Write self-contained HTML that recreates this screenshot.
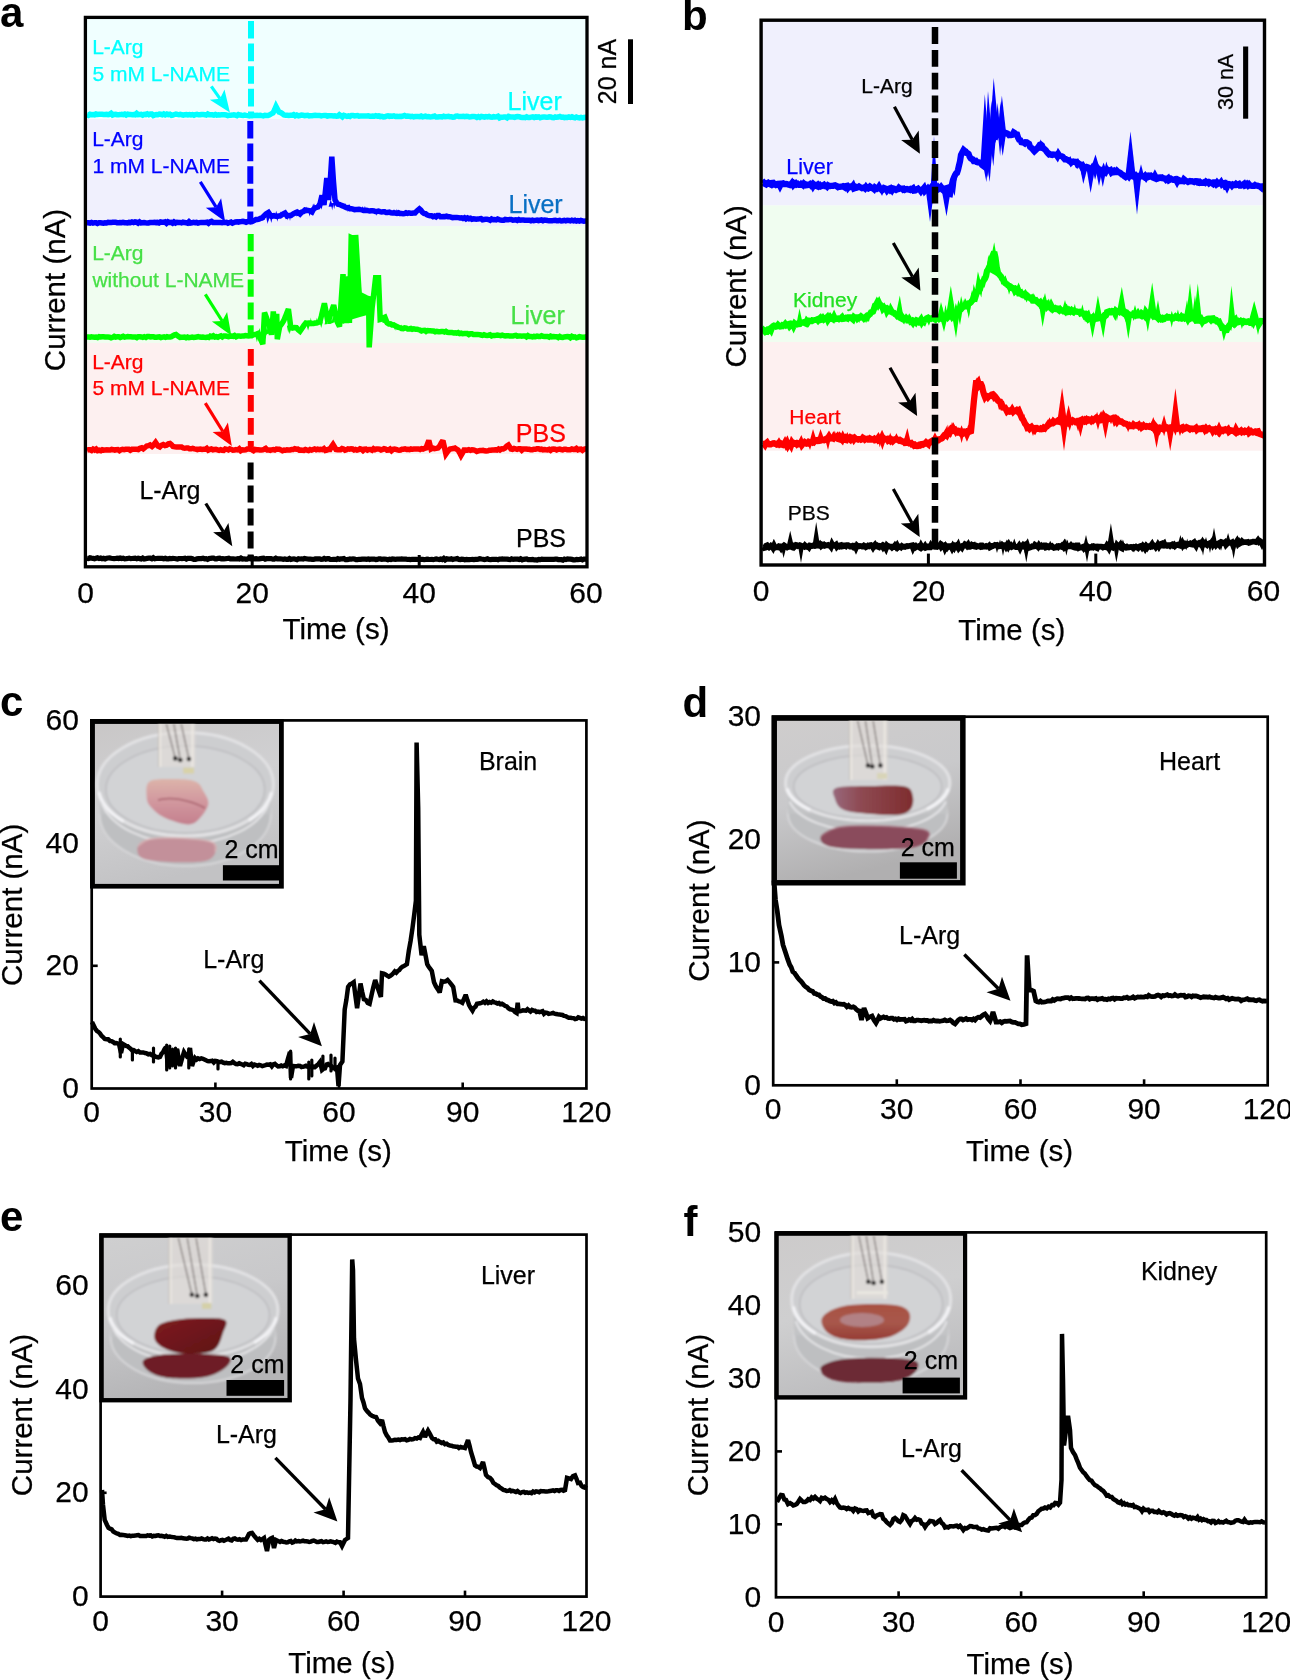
<!DOCTYPE html>
<html><head><meta charset="utf-8"><style>
html,body{margin:0;padding:0;background:#fff;}
svg{display:block;font-family:"Liberation Sans", sans-serif;will-change:transform;}
</style></head><body>
<svg width="1290" height="1680" viewBox="0 0 1290 1680">
<text x="0" y="26.8" font-size="42" fill="#000" text-anchor="start" font-weight="bold" >a</text>
<rect x="85.4" y="17.4" width="501.6" height="101.6" fill="#f0ffff"/>
<rect x="85.4" y="119" width="501.6" height="107" fill="#f0f0fd"/>
<rect x="85.4" y="226" width="501.6" height="117" fill="#f0fdf0"/>
<rect x="85.4" y="343" width="501.6" height="111" fill="#fdf0f0"/>
<line x1="251" y1="21" x2="251" y2="113" stroke="#00ffff" stroke-width="6" stroke-dasharray="17.6 5"/>
<line x1="250.3" y1="121" x2="250.3" y2="219" stroke="#0000ff" stroke-width="6" stroke-dasharray="17.6 5"/>
<line x1="250.7" y1="234" x2="250.7" y2="334" stroke="#00ff00" stroke-width="6" stroke-dasharray="17.2 5.6"/>
<line x1="250.8" y1="349" x2="250.8" y2="447" stroke="#ff0000" stroke-width="6" stroke-dasharray="16.8 6.2"/>
<line x1="250.6" y1="462.6" x2="250.6" y2="557" stroke="#000000" stroke-width="6" stroke-dasharray="17 6"/>
<text x="92.2" y="54.2" font-size="21" fill="#00ffff" text-anchor="start" font-weight="normal" stroke="#00ffff" stroke-width="0.25" >L-Arg</text>
<text x="92.4" y="81.1" font-size="21" fill="#00ffff" text-anchor="start" font-weight="normal" stroke="#00ffff" stroke-width="0.25" >5 mM L-NAME</text>
<text x="92.2" y="145.9" font-size="21" fill="#0000ff" text-anchor="start" font-weight="normal" stroke="#0000ff" stroke-width="0.25" >L-Arg</text>
<text x="92.4" y="172.7" font-size="21" fill="#0000ff" text-anchor="start" font-weight="normal" stroke="#0000ff" stroke-width="0.25" >1 mM L-NAME</text>
<text x="92.2" y="259.8" font-size="21" fill="#46e046" text-anchor="start" font-weight="normal" stroke="#46e046" stroke-width="0.25" >L-Arg</text>
<text x="92.4" y="286.5" font-size="21" fill="#46e046" text-anchor="start" font-weight="normal" stroke="#46e046" stroke-width="0.25" >without L-NAME</text>
<text x="92.2" y="368.5" font-size="21" fill="#ff0000" text-anchor="start" font-weight="normal" stroke="#ff0000" stroke-width="0.25" >L-Arg</text>
<text x="92.4" y="395" font-size="21" fill="#ff0000" text-anchor="start" font-weight="normal" stroke="#ff0000" stroke-width="0.25" >5 mM L-NAME</text>
<text x="507.6" y="109.9" font-size="25" fill="#00ffff" text-anchor="start" font-weight="normal" stroke="#00ffff" stroke-width="0.25" >Liver</text>
<text x="508.5" y="213.1" font-size="25" fill="#0a70c4" text-anchor="start" font-weight="normal" stroke="#0a70c4" stroke-width="0.25" >Liver</text>
<text x="510.6" y="323.8" font-size="25" fill="#46e046" text-anchor="start" font-weight="normal" stroke="#46e046" stroke-width="0.25" >Liver</text>
<text x="515.8" y="441.9" font-size="25" fill="#ff0000" text-anchor="start" font-weight="normal" stroke="#ff0000" stroke-width="0.25" >PBS</text>
<text x="516" y="547.2" font-size="25" fill="#000" text-anchor="start" font-weight="normal" stroke="#000" stroke-width="0.25" >PBS</text>
<text x="139.4" y="499" font-size="25" fill="#000" text-anchor="start" font-weight="normal" stroke="#000" stroke-width="0.25" >L-Arg</text>
<path d="M87 114.5 L88.5 115.3 L90 114.3 L91.5 114.7 L93 114.6 L94.5 114.8 L96 114 L97.5 114.4 L99.1 114.3 L100.6 114.2 L102.1 114.2 L103.6 114.4 L105.1 114.4 L106.6 114.2 L108.1 114.7 L109.6 114.4 L111.1 113.4 L112.6 115 L114.1 114.4 L115.6 114.3 L117.1 114.7 L118.6 114.7 L120.1 114.6 L121.7 114.3 L123.2 114.7 L124.7 114.1 L126.2 115.1 L127.7 114.2 L129.2 114.5 L130.7 114.6 L132.2 114.7 L133.7 114.5 L135.2 114.8 L136.7 113.4 L138.2 114.6 L139.7 114.5 L141.2 114.4 L142.7 115.1 L144.3 114.3 L145.8 114.6 L147.3 113.9 L148.8 114.7 L150.3 114.1 L151.8 114.1 L153.3 115.5 L154.8 114.9 L156.3 114.6 L157.8 114.7 L159.3 114.1 L160.8 114.3 L162.3 114.8 L163.8 113.9 L165.3 114.8 L166.9 114.1 L168.4 114.7 L169.9 114.3 L171.4 115.3 L172.9 115 L174.4 114.5 L175.9 114 L177.4 114.4 L178.9 114.7 L180.4 114.3 L181.9 114.8 L183.4 115.1 L184.9 114.7 L186.4 114.6 L187.9 115 L189.5 114.6 L191 115 L192.5 114.6 L194 115.3 L195.5 114.6 L197 114.4 L198.5 114.8 L200 114.8 L201.5 114.5 L203.1 114.4 L204.6 114.7 L206.2 115.1 L207.7 114 L209.2 114.8 L210.8 114.8 L212.3 114.8 L213.8 115.1 L215.4 114.4 L216.9 115.1 L218.5 114.8 L220 114.9 L221.5 114.8 L223.1 114.8 L224.6 114.7 L226.2 115 L227.7 115.6 L229.2 115.3 L230.8 115.2 L232.3 115.1 L233.8 114.8 L235.4 115.2 L236.9 115.7 L238.5 114.5 L240 115 L241.6 115.3 L243.1 115.4 L244.7 115.1 L246.2 115.4 L247.8 115.6 L249.3 115.9 L250.9 115.6 L252.4 115.8 L254 115.3 L255.6 115.5 L257.1 115.3 L258.7 115.4 L260.2 115.2 L261.8 115.6 L263.3 115.9 L264.9 115.4 L266.4 115.5 L268 115.5 L269.7 114.9 L271.3 113.8 L273 113 L274.5 110.1 L276 106.5 L277.5 109.3 L279 112 L280.7 112.6 L282.3 113.6 L284 115 L285.6 115.3 L287.2 115.3 L288.8 115.5 L290.4 115.3 L292 115.3 L293.6 114.7 L295.2 115.8 L296.8 115.1 L298.4 115.8 L300 115.5 L301.5 115.1 L303 115.3 L304.5 115.6 L306.1 115.4 L307.6 115.3 L309.1 115.9 L310.6 115.8 L312.1 115.7 L313.6 115.5 L315.2 115.3 L316.7 115.5 L318.2 115.5 L319.7 115.6 L321.2 115.9 L322.7 115.6 L324.2 115.4 L325.8 115.5 L327.3 116.2 L328.8 115.8 L330.3 115.8 L331.8 115.8 L333.3 116 L334.8 115.8 L336.4 116.2 L337.9 116.1 L339.4 114.8 L340.9 115.8 L342.4 116.9 L343.9 115.4 L345.5 115.9 L347 116.3 L348.5 115.9 L350 116.4 L351.5 115.5 L353 115.5 L354.5 115.9 L356.1 115.7 L357.6 115.6 L359.1 116.2 L360.6 116.1 L362.1 116 L363.6 115.9 L365.2 116.1 L366.7 116 L368.2 115.8 L369.7 116.2 L371.2 116.2 L372.7 116.1 L374.2 116.3 L375.8 115.7 L377.3 116.1 L378.8 115.9 L380.3 116.6 L381.8 116.3 L383.3 116.9 L384.8 116.7 L386.4 116.1 L387.9 115.8 L389.4 116.4 L390.9 116.1 L392.4 116.2 L393.9 115.9 L395.5 116.5 L397 116.3 L398.5 116.4 L400 116.3 L401.5 116.4 L403 116 L404.5 115.5 L406 116.2 L407.5 116.1 L409 116.2 L410.6 116.7 L412.1 116.3 L413.6 116.9 L415.1 116.5 L416.6 116.6 L418.1 116.6 L419.6 116.7 L421.1 116 L422.6 116.8 L424.1 116.5 L425.6 116.1 L427.1 116.7 L428.7 116.6 L430.2 116.9 L431.7 116.8 L433.2 116.6 L434.7 116 L436.2 117.1 L437.7 117.1 L439.2 116.8 L440.7 116.7 L442.2 117 L443.7 116.3 L445.2 116.8 L446.8 116.6 L448.3 116.3 L449.8 116.7 L451.3 116.8 L452.8 117.2 L454.3 117 L455.8 116.1 L457.3 116 L458.8 116.6 L460.3 116.6 L461.8 116.4 L463.3 116.2 L464.8 116.6 L466.4 116.3 L467.9 116.5 L469.4 117 L470.9 116.8 L472.4 116.5 L473.9 116.4 L475.4 116.7 L476.9 117.4 L478.4 116.6 L479.9 117.4 L481.4 116.5 L482.9 116.8 L484.5 117.1 L486 116.6 L487.5 116.9 L489 116.4 L490.5 117.1 L492 117.3 L493.5 116.7 L495 117 L496.5 116.8 L498 116.2 L499.5 117.9 L501 117.2 L502.5 117.2 L504.1 117.1 L505.6 117 L507.1 117.8 L508.6 116.4 L510.1 116.9 L511.6 116.9 L513.1 117 L514.6 117.3 L516.1 116.8 L517.6 116.6 L519.1 116.7 L520.6 117.2 L522.2 117.4 L523.7 117.4 L525.2 117.7 L526.7 116.9 L528.2 117.5 L529.7 117.4 L531.2 117.1 L532.7 116.9 L534.2 117.5 L535.7 116.9 L537.2 117.1 L538.7 116.8 L540.2 117.8 L541.8 117.2 L543.3 117 L544.8 117.1 L546.3 117.2 L547.8 117.3 L549.3 116.7 L550.8 116.9 L552.3 117.5 L553.8 117.7 L555.3 116.9 L556.8 117.3 L558.3 117.1 L559.9 116.5 L561.4 117.2 L562.9 117 L564.4 117.7 L565.9 117.3 L567.4 117.4 L568.9 116.9 L570.4 117.4 L571.9 116.7 L573.4 117.5 L574.9 117.9 L576.4 117 L578 117.7 L579.5 117.9 L581 117.4 L582.5 117.9 L584 117.5 L585.5 117.3 L587 117.5" fill="none" stroke="#00ffff" stroke-width="5.5" stroke-linejoin="miter" stroke-miterlimit="2.5" stroke-linecap="butt" />
<path d="M87 222.8 L88.5 222.8 L90 223.2 L91.5 222.5 L93 223.1 L94.5 222.7 L96 222.7 L97.5 223.4 L99 222.8 L100.5 222.8 L102 223 L103.5 223.2 L105 222.8 L106.5 223 L108 222.4 L109.5 222.6 L111 222.6 L112.5 222.3 L114 222.2 L115.5 222.2 L117 222.7 L118.5 222.7 L120 222.6 L121.5 222.7 L123 222.3 L124.5 222.7 L126 222.8 L127.5 223 L129 222.4 L130.5 222.6 L132 222 L133.5 222.5 L135 221.9 L136.5 222.2 L138 223.1 L139.5 221.9 L141 223 L142.5 222.8 L144 222.6 L145.5 222.8 L147 222.9 L148.5 223 L150 222.6 L151.5 222.5 L153 222.4 L154.5 222.3 L156 222.6 L157.5 222.4 L159 223 L160.5 222 L162 222.3 L163.5 222.3 L165 221.9 L166.5 223.3 L168 221.8 L169.5 222.5 L171 222.4 L172.5 223.2 L174 221.9 L175.5 223 L177 222.3 L178.5 222.5 L180 222.4 L181.5 222.8 L183 222.2 L184.5 222.6 L186 222.7 L187.5 223.2 L189 221.7 L190.5 223.1 L192 222.9 L193.5 222.4 L195 222.7 L196.5 222.4 L198 223.1 L199.5 222.6 L201 222.5 L202.5 222.5 L204 222.5 L205.5 222.5 L207 222.2 L208.5 223.3 L210 221.9 L211.5 221.3 L213 222.5 L214.5 222.5 L216 222.6 L217.5 222.4 L219 222.5 L220.5 222.6 L222 222.8 L223.5 222.3 L225 222.5 L226.5 222.3 L228 223.1 L229.5 222.5 L231 222 L232.5 223.1 L234 222.5 L235.5 221.9 L237 221.7 L238.5 222.2 L240 221.7 L241.5 221.6 L243 221.4 L244.5 221.7 L246 222.2 L247.5 221.6 L249 221.2 L250.5 221.9 L252 221.6 L254 220.6 L256 219.5 L257.5 219.4 L259 219.2 L260.5 218.3 L262 218 L264 215.9 L266 214 L268.5 212.5 L271 216 L272.5 216 L274 215.6 L275.5 216.2 L277 216.5 L278.5 216.1 L280 216 L281.7 214.9 L283.3 213.9 L285 213 L287 216 L289 215.4 L291 215.4 L292.5 214.3 L294 213.6 L295.5 212.6 L297 212 L298.5 212.8 L300 214 L301.7 212.1 L303.3 211.5 L305 210 L306.5 210.2 L308 210.4 L310 210.8 L312 212 L313.5 209.2 L315 208 L316.5 207.5 L318 207 L320 204 L322 195.5 L324 205 L326.8 178 L328.5 200 L330 185 L331.8 156.6 L333.5 182 L335 200 L336.5 202.5 L338 204.2 L339.8 204.6 L341.5 205.4 L343.2 206.1 L345 207 L346.6 207.7 L348.2 207.6 L349.8 208.7 L351.4 208.7 L353 209.2 L354.5 209.7 L356 209.5 L357.5 209.5 L359 209.2 L360.5 209.6 L362 209.9 L363.5 210.4 L365 210.4 L366.5 210.2 L368 210.7 L369.5 211 L371 210.7 L372.5 210.8 L374 210.9 L375.5 211.5 L377 211.5 L378.5 211.1 L380 211.6 L381.5 211.9 L383.1 211.7 L384.6 211.8 L386.2 212.6 L387.7 212.6 L389.2 212.2 L390.8 212.7 L392.3 212.9 L393.8 212.7 L395.4 213 L396.9 213.4 L398.5 212.7 L400 213.5 L401.5 213.6 L403 213.7 L404.5 213.5 L406 212.8 L407.5 213.4 L409 212.9 L410.5 213.3 L412 213.3 L413.5 213.1 L415 213 L417.2 210.7 L419.4 208.9 L420.9 210.2 L422.5 212.3 L424 213.5 L425.5 213.7 L427 214.8 L428.5 215.3 L430 215.7 L431.5 215.7 L433 216.7 L434.5 216 L436 216.9 L437.5 215.5 L439 215.5 L440.5 216.8 L442 216.8 L443.5 216.5 L445 216.7 L446.5 216.2 L448 216.7 L449.5 216.7 L451 217.1 L452.5 217.6 L454 217.4 L455.5 217.6 L457 217.4 L458.5 217.6 L460 217.9 L461.5 217.8 L463 218.5 L464.5 217.8 L466 218.9 L467.5 218 L469 218.8 L470.5 218.3 L472 219.2 L473.5 218.8 L475 219 L476.5 219.2 L478 218.9 L479.5 218.8 L481 218.6 L482.5 219.8 L484 219.5 L485.5 219.3 L487 219.3 L488.5 219.6 L490.1 220.3 L491.6 219 L493.1 219.7 L494.6 219.5 L496.1 219.9 L497.6 219.1 L499.1 219.6 L500.6 220 L502.2 220.3 L503.7 220.3 L505.2 219.5 L506.7 219.8 L508.2 219.8 L509.7 219.4 L511.2 219.4 L512.8 220.2 L514.3 220 L515.8 219.9 L517.3 220.4 L518.8 219.6 L520.3 220.2 L521.8 220 L523.4 220 L524.9 220.3 L526.4 220.2 L527.9 220.2 L529.4 220.2 L530.9 220.8 L532.4 220.1 L533.9 220.6 L535.5 220.4 L537 220.1 L538.5 220.6 L540 220.3 L541.5 220 L543 220.8 L544.5 220.1 L546.1 220.2 L547.6 220.5 L549.1 220.7 L550.6 220.8 L552.1 220.8 L553.6 220.4 L555.2 220.2 L556.7 220.7 L558.2 220.7 L559.7 220.3 L561.2 221 L562.7 220.7 L564.3 220.3 L565.8 220.8 L567.3 220.2 L568.8 220.4 L570.3 220.9 L571.8 220.2 L573.4 220.8 L574.9 220.3 L576.4 221.1 L577.9 220.6 L579.4 221 L580.9 220.4 L582.5 220.8 L584 221.3 L585.5 221.1 L587 221" fill="none" stroke="#0000ff" stroke-width="5.5" stroke-linejoin="miter" stroke-miterlimit="2.5" stroke-linecap="butt" />
<path d="M87 337 L88.5 337 L90 337.2 L91.5 336.8 L93 337.1 L94.5 337.3 L96.1 337.1 L97.6 337.5 L99.1 336.7 L100.6 337 L102.1 336.8 L103.6 336.7 L105.1 336.9 L106.6 337.1 L108.1 337.1 L109.6 337.2 L111.1 337.8 L112.7 337.3 L114.2 336.4 L115.7 337.1 L117.2 336.8 L118.7 336.8 L120.2 337.5 L121.7 336.9 L123.2 336.3 L124.7 337.1 L126.2 336.9 L127.7 336.6 L129.3 336.7 L130.8 336.8 L132.3 337 L133.8 336.9 L135.3 337 L136.8 337.6 L138.3 336.7 L139.8 336.7 L141.3 336.9 L142.8 337.4 L144.3 336.8 L145.9 337.5 L147.4 336.5 L148.9 336.6 L150.4 337 L151.9 336.7 L153.4 336.8 L154.9 337.2 L156.4 337.3 L157.9 337 L159.4 336.9 L160.9 337.5 L162.5 337.1 L164 336.9 L165.5 337.4 L167 336.7 L168.5 337.1 L170 337 L171.5 336.6 L173 335.7 L174.5 334.9 L176 334.5 L178 336.1 L180 337.5 L181.5 337.3 L183 337.2 L184.5 337 L186.1 337.8 L187.6 337.1 L189.1 337.7 L190.6 337.4 L192.1 337.1 L193.6 337.4 L195.2 337.2 L196.7 337.1 L198.2 336.6 L199.7 337.1 L201.2 337.3 L202.7 337.1 L204.2 337.3 L205.8 337.4 L207.3 337 L208.8 337.5 L210.3 336.2 L211.8 336.7 L213.3 335.8 L214.8 337 L216.4 336.7 L217.9 337.2 L219.4 336.4 L220.9 335.8 L222.4 336.9 L223.9 336 L225.5 336 L227 336.3 L228.5 336.6 L230 336.3 L231.5 336.1 L233.1 336.3 L234.6 335.5 L236.2 336.8 L237.7 336.1 L239.2 336.1 L240.8 336.2 L242.3 336.1 L243.8 336 L245.4 335.6 L246.9 335.8 L248.5 336 L250 335.8 L251.6 335.7 L253.2 334.8 L254.8 334.5 L256.4 334.1 L258 333.5 L259.6 337.2 L261.2 340.6 L262.8 344 L264.5 312.6 L266.1 316.7 L267.6 320.9 L269.2 325.3 L271.5 334.7 L273.3 311.4 L275 332.3 L276.7 313.7 L277.3 339.3 L279.7 326.5 L281.7 324 L283.7 320.7 L285.3 316.9 L286.8 313 L288.4 309.1 L290.7 326.5 L292.6 328.1 L294.6 327.6 L296.5 327.7 L298.2 329.7 L300 331.2 L301.9 328.5 L303.9 325.4 L305.8 323 L307.4 323.4 L308.9 323 L310.5 323 L312 323.4 L313.6 323.4 L315.1 323 L316.7 322.7 L318.2 322.3 L319.8 321.9 L321.3 316.4 L322.9 309.7 L324.4 303.3 L326.1 312.2 L327.9 321.9 L329.8 316.5 L331.8 310.7 L333.7 305 L335.4 313.5 L337.2 321.9 L339.5 326.5 L341.2 300.6 L343 274.2 L344.8 298.7 L346.5 323 L348.8 276.5 L349.4 323 L351.2 237.6 L352.7 238.3 L354.3 237.7 L355.8 237.6 L358.7 287 L360.5 310.2 L363.4 296.3 L365.1 297.2 L366.9 298.2 L368.6 298.6 L369.2 347.4 L372.1 307.9 L373.9 292.6 L375.6 277.7 L378.5 277.7 L380.2 319.5 L381.8 319.1 L383.3 317.9 L384.9 317.2 L387.2 323 L388.8 324 L390.4 323.9 L392 324.9 L393.6 324.8 L395.2 325.8 L396.8 326.5 L398.4 327.3 L400 327.7 L401.5 328.6 L403.1 328.7 L404.6 327.8 L406.2 328.1 L407.7 329 L409.2 328.9 L410.8 328.5 L412.3 329.3 L413.8 328.9 L415.4 329.2 L416.9 329.2 L418.5 329.7 L420 330 L421.5 330.9 L423.1 330.4 L424.6 330.3 L426.1 331.4 L427.6 330.5 L429.1 330.7 L430.7 330.8 L432.2 331.1 L433.7 331 L435.2 331.8 L436.8 331.3 L438.3 331.7 L439.8 331.7 L441.4 331.5 L442.9 331.5 L444.4 332 L445.9 331.3 L447.4 332.3 L449 332.4 L450.5 332.6 L452 332.6 L453.6 332.9 L455.1 332.8 L456.6 333.2 L458.1 332.6 L459.6 333.6 L461.2 333.1 L462.7 333.7 L464.2 333.5 L465.8 333.6 L467.3 333.6 L468.8 334.5 L470.3 333.7 L471.9 333.8 L473.4 334.5 L474.9 334.6 L476.4 334.6 L477.9 334.4 L479.5 334.6 L481 335 L482.5 335.4 L484 334.7 L485.5 335.3 L487.1 335.4 L488.6 335.2 L490.1 334.8 L491.6 335.9 L493.1 335.4 L494.6 335.4 L496.1 335.3 L497.6 335.1 L499.2 335.4 L500.7 335.6 L502.2 335.2 L503.7 335.6 L505.2 336 L506.7 335.8 L508.2 335.7 L509.7 336.1 L511.3 336.1 L512.8 336.1 L514.3 335.6 L515.8 335.3 L517.3 336.2 L518.8 336 L520.3 335.9 L521.8 336.2 L523.4 335.9 L524.9 335.9 L526.4 336.8 L527.9 335.6 L529.4 336.5 L530.9 336.6 L532.4 336.9 L533.9 336.4 L535.5 336.6 L537 336.1 L538.5 336.5 L540 336.5 L541.5 335.8 L543 336.4 L544.5 336.6 L546.1 336.6 L547.6 336.5 L549.1 337.1 L550.6 336.1 L552.1 336.8 L553.6 336.6 L555.2 336.8 L556.7 336.8 L558.2 337.5 L559.7 336.5 L561.2 337.3 L562.7 337.4 L564.3 336.9 L565.8 336.7 L567.3 336.5 L568.8 336.7 L570.3 337.7 L571.8 336.3 L573.4 337.2 L574.9 336.9 L576.4 337.8 L577.9 337.3 L579.4 336.7 L580.9 337 L582.5 337.3 L584 337.3 L585.5 336.9 L587 337.3" fill="none" stroke="#00ff00" stroke-width="5.5" stroke-linejoin="miter" stroke-miterlimit="2.5" stroke-linecap="butt" />
<path d="M278.9 217.8 L280.2 211.2 L281.6 217.6 Z" fill="#0000ff"/>
<path d="M315.5 209.9 L317.3 202.7 L319.2 208.1 Z" fill="#0000ff"/>
<path d="M261.1 220.4 L263 214 L264.9 219.7 Z" fill="#0000ff"/>
<path d="M307.7 209.5 L309.6 216.6 L311.6 208.1 Z" fill="#0000ff"/>
<path d="M328.6 206.8 L330.7 199.4 L332.8 206.4 Z" fill="#0000ff"/>
<path d="M311.1 211.5 L313.1 203.8 L315.2 210.1 Z" fill="#0000ff"/>
<path d="M312 211.2 L314 203.3 L316 209.7 Z" fill="#0000ff"/>
<path d="M274.2 218.5 L276.2 210.7 L278.2 217.9 Z" fill="#0000ff"/>
<path d="M266.5 216.2 L268.2 221.7 L270 215.7 Z" fill="#0000ff"/>
<path d="M332.7 203.1 L334.2 208.9 L335.6 202.8 Z" fill="#0000ff"/>
<path d="M330.9 203.3 L332.2 210.5 L333.5 203 Z" fill="#0000ff"/>
<path d="M311.9 208 L313.2 215.1 L314.5 207 Z" fill="#0000ff"/>
<path d="M288.6 213.9 L290 221.1 L291.3 213.7 Z" fill="#0000ff"/>
<path d="M296 216.3 L297.9 208.5 L299.8 215.7 Z" fill="#0000ff"/>
<path d="M320.1 204.3 L321.5 209.8 L322.9 204.1 Z" fill="#0000ff"/>
<path d="M285.9 214 L287.6 220.3 L289.3 213.8 Z" fill="#0000ff"/>
<path d="M275.9 214.9 L277.4 221.7 L279 214.5 Z" fill="#0000ff"/>
<path d="M315.5 209.9 L317.5 202.7 L319.5 207.9 Z" fill="#0000ff"/>
<path d="M269.6 215.8 L271.3 222.9 L273 215.3 Z" fill="#0000ff"/>
<path d="M266.1 216.3 L267.5 224 L268.9 215.9 Z" fill="#0000ff"/>
<path d="M305.3 213.7 L306.8 206.4 L308.4 212.5 Z" fill="#0000ff"/>
<path d="M270.1 219 L272 213.2 L273.9 218.5 Z" fill="#0000ff"/>
<path d="M391.9 214.4 L394 209 L396.1 214.8 Z" fill="#0000ff"/>
<path d="M345.7 205.5 L347.2 211.9 L348.8 206.4 Z" fill="#0000ff"/>
<path d="M395.3 214.7 L396.9 208.8 L398.5 215 Z" fill="#0000ff"/>
<path d="M362.9 211.7 L364.9 206 L366.9 212.1 Z" fill="#0000ff"/>
<path d="M347.4 209.3 L349.5 203.9 L351.7 210.5 Z" fill="#0000ff"/>
<path d="M343 207.9 L345.1 202.9 L347.1 209.2 Z" fill="#0000ff"/>
<path d="M361.1 211.6 L362.6 206 L364.1 211.8 Z" fill="#0000ff"/>
<path d="M374.2 209.4 L376.3 215.8 L378.3 209.8 Z" fill="#0000ff"/>
<path d="M289.2 325.5 L290.6 331.5 L292.1 325.3 Z" fill="#00ff00"/>
<path d="M257.3 337 L259.5 327.9 L261.6 336.7 Z" fill="#00ff00"/>
<path d="M324.5 324.5 L326.2 317.5 L327.9 324 Z" fill="#00ff00"/>
<path d="M271.2 329 L273 334.9 L274.9 327.9 Z" fill="#00ff00"/>
<path d="M287.6 325.7 L289.7 334.3 L291.8 325.3 Z" fill="#00ff00"/>
<path d="M305.9 323.6 L308.1 330.5 L310.2 323 Z" fill="#00ff00"/>
<path d="M329.5 323.8 L330.8 315.4 L332.2 323.1 Z" fill="#00ff00"/>
<path d="M257.5 333.6 L259.4 341.8 L261.3 333.4 Z" fill="#00ff00"/>
<path d="M328 324 L330.1 316.6 L332.2 323.1 Z" fill="#00ff00"/>
<path d="M275.7 331 L277.6 322.2 L279.6 329.8 Z" fill="#00ff00"/>
<path d="M331.5 323.4 L333.2 314 L334.9 321.9 Z" fill="#00ff00"/>
<path d="M327.6 324.1 L329.2 315 L330.9 323.7 Z" fill="#00ff00"/>
<path d="M260.5 333.5 L262.4 341.4 L264.3 332.2 Z" fill="#00ff00"/>
<path d="M336.3 318 L338 325.9 L339.7 316.5 Z" fill="#00ff00"/>
<path d="M309.3 326.4 L310.8 317.4 L312.2 326 Z" fill="#00ff00"/>
<path d="M267.3 334 L268.8 325.9 L270.3 332.6 Z" fill="#00ff00"/>
<path d="M254.9 333.8 L256.9 342.2 L258.9 333.6 Z" fill="#00ff00"/>
<path d="M286.9 325.7 L288.3 333.1 L289.7 325.5 Z" fill="#00ff00"/>
<path d="M265 335.2 L266.9 325.7 L268.8 333.2 Z" fill="#00ff00"/>
<path d="M263.3 332.7 L265.4 338.9 L267.4 330.6 Z" fill="#00ff00"/>
<path d="M260.5 333.4 L262 340.9 L263.5 332.6 Z" fill="#00ff00"/>
<path d="M319.6 321.8 L321.2 327.9 L322.9 321.4 Z" fill="#00ff00"/>
<path d="M268.4 333.4 L270 323.5 L271.6 332.2 Z" fill="#00ff00"/>
<path d="M315.1 325.6 L316.9 317.6 L318.6 325.2 Z" fill="#00ff00"/>
<path d="M335.2 321.8 L337.2 312.8 L339.2 320 Z" fill="#00ff00"/>
<path d="M262.6 333 L264 340.5 L265.5 331.6 Z" fill="#00ff00"/>
<path d="M393.8 323.8 L395.9 330.7 L398 325.3 Z" fill="#00ff00"/>
<path d="M393 323.5 L394.7 330.1 L396.3 324.7 Z" fill="#00ff00"/>
<path d="M390.6 326 L392.1 321.4 L393.6 327 Z" fill="#00ff00"/>
<path d="M382 322.2 L383.9 317.5 L385.9 324.1 Z" fill="#00ff00"/>
<path d="M399.7 329.2 L401.8 324.4 L403.8 329.8 Z" fill="#00ff00"/>
<path d="M417.7 328.1 L419.8 333.5 L422 328.4 Z" fill="#00ff00"/>
<path d="M340 321 L343 275 L346 300 L348.8 277 L351.2 238 L355.8 238 L358.7 287 L361 302 L363.4 297 L368.6 299 L371 314 L360 317 L350 320 L343 324 Z" fill="#00ff00"/>
<path d="M87 450.2 L88.5 449.7 L90.1 449.7 L91.6 450.5 L93.1 449.1 L94.7 450.1 L96.2 449.1 L97.7 450.6 L99.3 450.2 L100.8 450.7 L102.3 449.8 L103.9 450.2 L105.4 449.9 L106.9 449.7 L108.5 450.1 L110 450 L111.6 449.4 L113.1 449.7 L114.7 450.2 L116.2 449.8 L117.8 449.6 L119.4 450.7 L120.9 449.7 L122.5 449.3 L124.1 449.6 L125.6 449.3 L127.2 449.3 L128.8 449.2 L130.3 450.3 L131.9 449.3 L133.4 449.3 L135 449.2 L136.7 449.2 L138.3 449.5 L140 448.2 L141.7 447.8 L143.3 448.9 L145 447.5 L146.7 446 L148.3 445.7 L150 445 L152 446.5 L153.8 444.8 L155.6 442.5 L158 446 L159.8 446.9 L161.5 445.3 L163.2 444.5 L165 445.5 L166.7 445.1 L168.3 443.9 L170 443.5 L171.5 444.8 L173 446.5 L174.8 446.8 L176.5 446.9 L178.2 447 L180 447 L181.6 447 L183.2 448 L184.8 448.3 L186.4 447.9 L187.9 447.9 L189.5 448.7 L191.1 448.8 L192.7 448.3 L194.3 448.8 L195.9 449.2 L197.4 449.7 L199 449.2 L200.5 449.1 L202.1 449.4 L203.6 449.3 L205.2 449.3 L206.7 448.4 L208.2 450.1 L209.8 449.4 L211.3 449 L212.9 449.8 L214.4 449.5 L215.9 449.4 L217.5 449.9 L219 450.4 L220.6 449.7 L222.1 450.2 L223.7 450.4 L225.2 449 L226.7 449.3 L228.3 449.9 L229.8 448.8 L231.4 449.4 L232.9 450.2 L234.5 450.1 L236 449.6 L237.6 449.9 L239.2 448.8 L240.8 450.7 L242.4 449.9 L244 450 L245.6 449.9 L247.2 449 L248.8 449.1 L250.4 449.2 L252 449.8 L253.5 450.7 L255 449.4 L256.6 449.7 L258.1 449.7 L259.6 450.1 L261.1 450 L262.7 449.9 L264.2 449.2 L265.7 448.4 L267.2 449.9 L268.7 449.9 L270.3 450.4 L271.8 449.8 L273.3 449.5 L274.8 450 L276.3 449.1 L277.9 449.3 L279.4 449.3 L280.9 449.9 L282.4 450.7 L284 450.1 L285.5 450.3 L287 449.8 L288.5 449.9 L290.1 449.9 L291.6 449.6 L293.1 449.6 L294.7 448.7 L296.2 449.2 L297.8 449.1 L299.3 450.1 L300.8 450 L302.4 450.2 L303.9 450.4 L305.4 449.5 L307 450.1 L308.5 450.5 L310 449.6 L311.6 450.1 L313.1 449.5 L314.6 448.9 L316.2 449.7 L317.7 449.2 L319.2 449.6 L320.8 449.4 L322.3 449.7 L323.9 448.6 L325.4 450.5 L326.9 450.1 L328.5 449.4 L330 449.5 L331.5 446.6 L333 444.5 L334.5 447 L336 449.5 L337.5 449.8 L339 449.7 L340.5 449.7 L342 448.6 L343.5 449 L345 450.1 L346.5 449.6 L348 448.8 L349.5 449.1 L351 448.8 L352.5 449 L354 450 L355.5 449.4 L357 450 L358.5 449.6 L360 448.8 L361.5 449.2 L363 450.5 L364.5 449.2 L366 449 L367.5 450.1 L369 449.5 L370.5 449.5 L372 450.2 L373.5 448.7 L375 449.7 L376.5 449 L378 448.9 L379.5 449.1 L381 450 L382.5 449.4 L384 448.7 L385.5 449 L387 450.2 L388.5 450 L390 449 L391.5 450.6 L393 449.3 L394.5 449 L396 449.4 L397.5 449.9 L399 450.2 L400.5 450 L402 449.3 L403.5 449.2 L405 448.8 L406.5 449.5 L408 449.2 L409.5 449.6 L411 448.9 L412.5 449.3 L414 449.1 L415.5 448.9 L417 449 L418.5 449 L420 449.5 L421.5 448.6 L423 449 L424.5 448.4 L426 448 L428.8 440.5 L431 449 L432.8 448.1 L434.5 448.7 L436.2 448.4 L438 448 L439.6 446.2 L441.3 442.9 L442.9 440.5 L444.4 447.2 L445.9 454 L447.9 451.2 L450 449 L451.7 448.7 L453.3 448.6 L455 448 L456.5 449.1 L458 450 L459.5 452.6 L461 455.5 L462.5 453 L464 450 L465.6 450.1 L467.2 450.2 L468.8 449.7 L470.4 450.3 L472 449.8 L473.6 449.9 L475.2 450.4 L476.8 451.4 L478.4 450.9 L480 450.5 L481.5 450.5 L483.1 450.3 L484.6 450.8 L486.2 451 L487.7 450.9 L489.2 450.2 L490.8 450.3 L492.3 450 L493.8 450 L495.4 449.7 L496.9 450 L498.5 449 L500 450 L501.7 448.8 L503.3 448.9 L505 448 L506.7 446.1 L508.4 445 L511 449 L512.5 449.3 L514.1 448.5 L515.6 448.9 L517.1 449.3 L518.6 448.7 L520.2 448.8 L521.7 450.3 L523.2 448.9 L524.7 448.9 L526.3 449 L527.8 449.3 L529.3 449.3 L530.8 449.8 L532.4 449.7 L533.9 449.2 L535.4 449.3 L536.9 448.8 L538.5 448.8 L540 449.5 L541.5 449.2 L543 449.8 L544.5 449.5 L546.1 449.8 L547.6 449.9 L549.1 449.4 L550.6 450.4 L552.1 449.2 L553.6 449.1 L555.2 449.2 L556.7 449.9 L558.2 449.3 L559.7 449 L561.2 449.6 L562.7 449.9 L564.3 449.3 L565.8 449.2 L567.3 449.8 L568.8 449.8 L570.3 449.7 L571.8 448.9 L573.4 449.4 L574.9 449.4 L576.4 448.4 L577.9 449.8 L579.4 449.3 L580.9 449.1 L582.5 450.3 L584 449.3 L585.5 448.9 L587 449.2" fill="none" stroke="#ff0000" stroke-width="5.5" stroke-linejoin="miter" stroke-miterlimit="2.5" stroke-linecap="butt" />
<path d="M87 558.3 L88.5 558.5 L90 557.8 L91.5 558.1 L93 558.3 L94.5 558.8 L96 558.3 L97.5 557.8 L99.1 558.4 L100.6 558 L102.1 558.7 L103.6 558.3 L105.1 558.9 L106.6 558.3 L108.1 558 L109.6 557.9 L111.1 558.3 L112.6 558.5 L114.1 558.7 L115.6 558.5 L117.1 558.2 L118.6 558.5 L120.1 558 L121.7 558.5 L123.2 558.2 L124.7 558.8 L126.2 558.7 L127.7 558.5 L129.2 558.1 L130.7 558.6 L132.2 558.5 L133.7 558.3 L135.2 558.2 L136.7 558.8 L138.2 558.3 L139.7 558.6 L141.2 558.9 L142.7 558 L144.3 559 L145.8 558.8 L147.3 558.3 L148.8 558.2 L150.3 558.1 L151.8 558.8 L153.3 557.7 L154.8 558.8 L156.3 558.5 L157.8 558.3 L159.3 558.3 L160.8 558.4 L162.3 558.4 L163.8 558.8 L165.3 558.3 L166.9 558.8 L168.4 558.8 L169.9 558.4 L171.4 558.7 L172.9 558.4 L174.4 558.5 L175.9 558.7 L177.4 559.1 L178.9 558.5 L180.4 558.5 L181.9 558.6 L183.4 558.5 L184.9 558.2 L186.4 559.1 L187.9 558.4 L189.5 558.4 L191 558.4 L192.5 558.8 L194 559.5 L195.5 559.5 L197 558.9 L198.5 558.7 L200 558.6 L201.5 558.6 L203 558.3 L204.5 558.8 L206.1 558.6 L207.6 559.3 L209.1 558.6 L210.6 558.3 L212.1 558.1 L213.6 558.1 L215.2 558.8 L216.7 558.8 L218.2 558.3 L219.7 558.2 L221.2 558.8 L222.7 558.6 L224.2 558.8 L225.8 558.7 L227.3 558.5 L228.8 558.2 L230.3 558.8 L231.8 558.8 L233.3 558.8 L234.8 559 L236.4 559 L237.9 558.6 L239.4 558.9 L240.9 558.1 L242.4 559 L243.9 558.8 L245.5 559.1 L247 559.1 L248.5 558.5 L250 558.8 L251.5 559.1 L253 558.6 L254.5 558.8 L256.1 558.6 L257.6 559 L259.1 558.9 L260.6 558.6 L262.1 558.4 L263.6 558.2 L265.2 559.1 L266.7 558.7 L268.2 558.7 L269.7 558.7 L271.2 558.6 L272.7 559.1 L274.2 559.1 L275.8 558.2 L277.3 558.9 L278.8 558.9 L280.3 558.8 L281.8 559 L283.3 559.4 L284.8 559 L286.4 559.3 L287.9 559.3 L289.4 558.5 L290.9 559.5 L292.4 559 L293.9 558.9 L295.5 559.2 L297 559.7 L298.5 558.8 L300 559 L301.5 558.8 L303 559.1 L304.5 558.5 L306.1 558.7 L307.6 559 L309.1 559.2 L310.6 559.2 L312.1 559.3 L313.6 559.4 L315.2 558.9 L316.7 558.9 L318.2 558.9 L319.7 558.9 L321.2 559.4 L322.7 559.3 L324.2 558.4 L325.8 559.2 L327.3 558.7 L328.8 558.7 L330.3 559.5 L331.8 559.5 L333.3 559.4 L334.8 559.3 L336.4 559.6 L337.9 558.7 L339.4 559.3 L340.9 558.9 L342.4 558.9 L343.9 558.6 L345.5 559.6 L347 559.6 L348.5 559.4 L350 558.9 L351.5 559.2 L353 558.8 L354.5 559 L356.1 559.6 L357.6 559.6 L359.1 559.3 L360.6 559.4 L362.1 559.1 L363.6 559.2 L365.2 559.1 L366.7 559.3 L368.2 558.9 L369.7 559.5 L371.2 559.1 L372.7 559.2 L374.2 559.1 L375.8 559.6 L377.3 559.4 L378.8 558.9 L380.3 558.9 L381.8 559.3 L383.3 559.2 L384.8 559.1 L386.4 559.2 L387.9 559.7 L389.4 559.2 L390.9 559.6 L392.4 559 L393.9 559.1 L395.5 559.3 L397 559.2 L398.5 559.1 L400 559.2 L401.5 558.9 L403 559.1 L404.5 559.1 L406 559.2 L407.5 559.5 L409 559.4 L410.6 559.6 L412.1 559.3 L413.6 559.4 L415.1 559.4 L416.6 559.4 L418.1 559.5 L419.6 559.1 L421.1 559.4 L422.6 559.3 L424.1 559.6 L425.6 559.5 L427.1 559.1 L428.7 559.4 L430.2 559.5 L431.7 559.3 L433.2 559.6 L434.7 559.3 L436.2 558.9 L437.7 559.3 L439.2 559.5 L440.7 559 L442.2 559.5 L443.7 558.4 L445.2 559.9 L446.8 558.8 L448.3 559.1 L449.8 559.2 L451.3 558.8 L452.8 559.4 L454.3 559 L455.8 558.9 L457.3 558.6 L458.8 559.5 L460.3 559.6 L461.8 559.2 L463.3 559.3 L464.8 559.8 L466.4 559.4 L467.9 559.6 L469.4 559.6 L470.9 559.5 L472.4 559.4 L473.9 559.6 L475.4 559.4 L476.9 559.3 L478.4 559.1 L479.9 558.7 L481.4 559 L482.9 559.2 L484.5 559.6 L486 559.2 L487.5 558.7 L489 559.5 L490.5 559.7 L492 559.4 L493.5 559.4 L495 559.4 L496.5 559.3 L498 559.7 L499.5 559.1 L501 559.1 L502.5 558.9 L504.1 559.2 L505.6 559.1 L507.1 559.1 L508.6 559.4 L510.1 559.6 L511.6 558.9 L513.1 559.4 L514.6 559.1 L516.1 559.1 L517.6 559.2 L519.1 559.5 L520.6 558.8 L522.2 559.8 L523.7 559.3 L525.2 559.1 L526.7 558.9 L528.2 559.7 L529.7 559.6 L531.2 559.6 L532.7 559.4 L534.2 559.9 L535.7 559.8 L537.2 560 L538.7 559.5 L540.2 559.7 L541.8 559.2 L543.3 559.4 L544.8 559.3 L546.3 559.4 L547.8 559.4 L549.3 559.4 L550.8 559.4 L552.3 559.4 L553.8 559.3 L555.3 559.2 L556.8 559.2 L558.3 559.6 L559.9 559.6 L561.4 559.7 L562.9 560.1 L564.4 559.1 L565.9 559.6 L567.4 559 L568.9 559.2 L570.4 559.1 L571.9 559.4 L573.4 559.8 L574.9 559.9 L576.4 559.5 L578 559.7 L579.5 559.5 L581 559 L582.5 559.9 L584 559.2 L585.5 559.2 L587 559.4" fill="none" stroke="#000000" stroke-width="5.2" stroke-linejoin="miter" stroke-miterlimit="2.5" stroke-linecap="butt" />
<line x1="211.3" y1="86.4" x2="220" y2="98.7" stroke="#00ffff" stroke-width="3.2"/>
<path d="M229.9 112.5 L209.8 99.8 L220 98.7 L224.5 89.4 Z" fill="#00ffff"/>
<line x1="200.3" y1="181.9" x2="216.1" y2="207.2" stroke="#0000ff" stroke-width="3.2"/>
<path d="M225.1 221.6 L205.8 207.7 L216.1 207.2 L221.1 198.2 Z" fill="#0000ff"/>
<line x1="205.3" y1="294.4" x2="222.2" y2="321" stroke="#00ff00" stroke-width="3.2"/>
<path d="M231.3 335.4 L211.9 321.6 L222.2 321 L227.1 312 Z" fill="#00ff00"/>
<line x1="205.3" y1="403.2" x2="222.9" y2="431.5" stroke="#ff0000" stroke-width="3.2"/>
<path d="M231.8 446 L212.6 432 L222.9 431.5 L227.9 422.6 Z" fill="#ff0000"/>
<line x1="205.8" y1="503.5" x2="223.4" y2="531.8" stroke="#000" stroke-width="3.2"/>
<path d="M232.3 546.3 L213.1 532.3 L223.4 531.8 L228.4 522.9 Z" fill="#000"/>
<rect x="85.4" y="17.4" width="501.6" height="549.4" fill="none" stroke="#000" stroke-width="3.3"/>
<text x="85.5" y="602.6" font-size="30" fill="#000" text-anchor="middle" font-weight="normal" stroke="#000" stroke-width="0.25" >0</text>
<line x1="252.2" y1="566" x2="252.2" y2="555" stroke="#000" stroke-width="3"/>
<text x="252.2" y="602.6" font-size="30" fill="#000" text-anchor="middle" font-weight="normal" stroke="#000" stroke-width="0.25" >20</text>
<line x1="419.2" y1="566" x2="419.2" y2="555" stroke="#000" stroke-width="3"/>
<text x="419.2" y="602.6" font-size="30" fill="#000" text-anchor="middle" font-weight="normal" stroke="#000" stroke-width="0.25" >40</text>
<text x="586" y="602.6" font-size="30" fill="#000" text-anchor="middle" font-weight="normal" stroke="#000" stroke-width="0.25" >60</text>
<text x="336" y="639" font-size="29.5" fill="#000" text-anchor="middle" font-weight="normal" stroke="#000" stroke-width="0.25" >Time (s)</text>
<text x="0" y="0" font-size="29.5" fill="#000" stroke="#000" stroke-width="0.25" text-anchor="middle" transform="translate(65 290) rotate(-90)">Current (nA)</text>
<rect x="628" y="39.3" width="5" height="64.7" fill="#000"/>
<text x="0" y="0" font-size="25" fill="#000" stroke="#000" stroke-width="0.25" text-anchor="middle" transform="translate(615.8 71.6) rotate(-90)">20 nA</text>
<text x="682" y="29.8" font-size="42" fill="#000" text-anchor="start" font-weight="bold" >b</text>
<rect x="761.1" y="20.2" width="503.4" height="185.3" fill="#f0f0fd"/>
<rect x="761.1" y="205.5" width="503.4" height="136.5" fill="#f0fdf0"/>
<rect x="761.1" y="342" width="503.4" height="108.69999999999999" fill="#fdf0f0"/>
<text x="786.2" y="174.4" font-size="21.5" fill="#0000ff" text-anchor="start" font-weight="normal" stroke="#0000ff" stroke-width="0.25" >Liver</text>
<text x="793" y="306.8" font-size="21" fill="#22e022" text-anchor="start" font-weight="normal" stroke="#22e022" stroke-width="0.25" >Kidney</text>
<text x="789.3" y="424" font-size="21" fill="#ff0000" text-anchor="start" font-weight="normal" stroke="#ff0000" stroke-width="0.25" >Heart</text>
<text x="787.8" y="519.5" font-size="21" fill="#000" text-anchor="start" font-weight="normal" stroke="#000" stroke-width="0.25" >PBS</text>
<text x="861.3" y="92.5" font-size="21" fill="#000" text-anchor="start" font-weight="normal" stroke="#000" stroke-width="0.25" >L-Arg</text>
<path d="M763 183.6 L764 182.8 L765 183.9 L766 184.4 L767 183.3 L768 182.8 L769 183.7 L770 184.1 L771 184.6 L772 183 L773 182.9 L774 184.4 L775 184.2 L776 185 L777 184.6 L778 183.9 L779 183.8 L780 185.8 L781 183.8 L782 183.5 L783 183.3 L784 184.2 L785 184.2 L786 183.9 L787 184.1 L788 184.4 L789 184.7 L790 185 L791 184.4 L792 183.1 L793 184.8 L794 183.4 L795 184.3 L796 183.4 L797 184.4 L798 183.9 L799 184.6 L800 184.5 L801 186.9 L802 184.5 L803 185.2 L804 183.7 L805 184.5 L806 185.2 L807 184.7 L808 185.1 L809 184.9 L810 184.2 L811 185.3 L812 184.4 L813 186.3 L814 184.7 L815 185.6 L816 185.1 L817 185.8 L818 184.8 L819 186 L820 185.2 L821 186.2 L822 185.8 L823 185.5 L824 184.9 L825 186 L826 185.9 L827 186.7 L828 185.4 L829 186 L830 186.1 L831 185.9 L832 185.9 L833 185.9 L834 185.4 L835 185.2 L836 185.7 L837 186.4 L838 187.1 L839 186.7 L840 186.8 L841 186.7 L842 186.7 L843 186.3 L844 186.8 L845 187.5 L846 186.1 L847 185.9 L848 187.8 L849 186.6 L850 186.5 L851 187.2 L852 187.2 L853 185.9 L854 188.5 L855 188.1 L856 187 L857 187.5 L858 187.1 L859 186.5 L860 187.1 L861 187.5 L862 188.1 L863 187.9 L864 187.5 L865 188.4 L866 187 L867 188.2 L868 188.5 L869 187.6 L870 186.6 L871 187.3 L872 188.1 L873 188.4 L874 189.2 L875 187.5 L876 188.2 L877 188.8 L878 188.3 L879 186.8 L880 188.5 L881 189.1 L882 190.2 L883 189.3 L884 188 L885 188.4 L886 188.8 L887 190.4 L888 189.2 L889 188.8 L890 189.9 L891 188.8 L892 190.1 L893 188.4 L894 188.6 L895 189.4 L896 189.9 L897 189.4 L898 189.2 L899 187.8 L900 188.6 L901 188.7 L902 188.7 L903 189.6 L904 188.9 L905 189.8 L906 189.3 L907 189 L908 189.4 L909 189.6 L910 189.9 L911 189 L912 189.2 L913 188.5 L914 190.6 L915 190.5 L916 189.4 L917 189.2 L918 188.7 L919 189.7 L920 189.8 L921 191.2 L922 189.9 L923 189.2 L924 188 L925 190.8 L926 189.8 L927 190 L928 188.7 L929 190 L930 188.8 L931 192.4 L932 190 L933 190.5 L934 189.9 L935 189.1 L936 187.5 L937 188.7 L938 187.4 L939 188.7 L940 188 L941 186.9 L942 188.2 L943 190.1 L944 190.8 L945 190 L946 190 L947 190.5 L948 193 L949 193.8 L950 194 L951 188.6 L952 184.2 L953 180 L954 177.5 L955 175.2 L956 173.5 L957 172.9 L958 170 L959 165.5 L960 161.4 L961 155 L962.3 152.4 L963.6 150 L964.6 150.9 L965.6 151.4 L966.6 153 L967.6 153.2 L968.6 153.9 L969.6 156.7 L970.6 158.2 L971.6 158.9 L972.6 159.3 L973.6 160.9 L974.7 160.8 L975.8 160.7 L976.8 162 L977.9 162.3 L978.9 162.4 L980 162.7 L981 163.5 L982.1 165.1 L983.1 165.8 L984.5 163 L986 160 L987 155.9 L988 153.5 L989 148.9 L990 145 L991 143.7 L992 142.4 L993 139.2 L994 138 L995 135.4 L996 136 L997 133.8 L998 133 L999 134 L1000 133.3 L1001 133.8 L1002 133.7 L1003 131.8 L1004 133.8 L1005 133.3 L1006 133.1 L1007 133.4 L1008 134 L1009 135.1 L1010 134.9 L1011.2 135.1 L1012.5 134.8 L1013.7 132.5 L1014.9 133.3 L1016 134.4 L1017.1 134.6 L1018.1 137.7 L1019.2 139.7 L1020.3 140.2 L1021.4 142.2 L1022.5 142.5 L1023.6 142.6 L1024.7 143.3 L1025.7 142.2 L1026.8 142.3 L1027.9 143 L1029 143.8 L1030.1 147 L1031.2 147.9 L1032.2 148.4 L1033.3 150 L1034.4 151.2 L1035.5 150.2 L1036.6 149.1 L1037.7 147.8 L1038.7 146.6 L1039.8 144.8 L1040.9 144.6 L1041.9 145.4 L1043 148.2 L1044 148.7 L1045 149.5 L1046 150.6 L1047 152 L1048.1 153.4 L1049.1 154.4 L1050.1 154.1 L1051.2 154.8 L1052.2 155 L1053.2 154.5 L1054.3 154.6 L1055.3 154.6 L1056.4 154.7 L1057.4 156.2 L1058.4 154.1 L1059.5 155.7 L1060.5 156 L1061.6 156.2 L1062.7 156.8 L1063.7 158 L1064.8 159.3 L1065.9 159.2 L1067 159.7 L1068 160 L1069.1 161 L1070.2 161.7 L1071.2 162.6 L1072.2 161.8 L1073.3 161.5 L1074.3 161.7 L1075.3 162 L1076.4 162 L1077.4 164 L1078.4 163.4 L1079.5 164.3 L1080.6 164.5 L1081.7 166.4 L1082.7 165.6 L1083.8 167.2 L1084.9 167.9 L1086 168 L1087 167.1 L1088 167.4 L1089 168 L1090 169.5 L1091 170 L1092 168.5 L1093 170.3 L1094 169.5 L1095 170 L1096 169.8 L1097 169.9 L1098 170.1 L1099 169.2 L1100 169.9 L1101 169.9 L1102 171.2 L1103 171 L1104 172.4 L1105.1 172.8 L1106.2 170.6 L1107.2 169.6 L1108.2 170.5 L1109.3 170.7 L1110.4 170.2 L1111.5 172.4 L1112.6 171.6 L1113.7 170.9 L1114.7 172.2 L1115.8 172.1 L1116.9 170.8 L1118 171.8 L1119.1 172.3 L1120.2 172.9 L1121.3 173.9 L1122.3 174.7 L1123.4 175.2 L1124.5 176.3 L1125.6 177 L1126.7 176.1 L1127.8 175.4 L1128.9 176.6 L1130 175 L1131 175.5 L1132 175.9 L1133 174.7 L1134 176 L1135 177 L1136 175.8 L1137 177 L1138 177.6 L1139 176.3 L1140 176.7 L1141 176.1 L1142 176 L1143 176.2 L1144 176.9 L1145 175.9 L1146 177.3 L1147 175.7 L1148 175.6 L1149 176.8 L1150 176.4 L1151 175.8 L1152 176.5 L1153 177.5 L1154 177.9 L1155 175.9 L1156 177.7 L1157 178.8 L1158 178.5 L1159 177.6 L1160 177.5 L1161 177.9 L1162 177.5 L1163 178.2 L1164 178.4 L1165 178.6 L1166 179.7 L1167 178.9 L1168 178.2 L1169 180.1 L1170 179.5 L1171 178.8 L1172 179.4 L1173 179.7 L1174 179.6 L1175 179.2 L1176 179.8 L1177 181.6 L1178 179.7 L1179 180.2 L1180 181.1 L1181 180.9 L1182 181 L1183 181.2 L1184 179.3 L1185 180.1 L1186 180.9 L1187 181.3 L1188 181.9 L1189 181.4 L1190 181 L1191 181.3 L1192 181.2 L1193 181.6 L1194 182 L1195 181.3 L1196 181.1 L1197 181.2 L1198 182.6 L1199 182.8 L1200 182 L1201 182.8 L1202 182.8 L1203 182.8 L1204 182.3 L1205 182.8 L1206 181.7 L1207 182.4 L1208 182.1 L1209 183.2 L1210 182.4 L1211 182.8 L1212 183.2 L1213 183.9 L1214 182.5 L1215 182.5 L1216 183.8 L1217 182.5 L1218 183.7 L1219 183.1 L1220 183.5 L1221 182.3 L1222 184.2 L1223 183.4 L1224 183.2 L1225 185.4 L1226 184.5 L1227 186.5 L1228 184.4 L1229 184 L1230 184.3 L1231 184.4 L1232 185.6 L1233 184.5 L1234 184.9 L1235 185 L1236 184 L1237 184.8 L1238 184.5 L1239 184 L1240 185.5 L1241 185.5 L1242 185.1 L1243 184.5 L1244 183.8 L1245 185.6 L1246 185.2 L1247 184.2 L1248 185.4 L1249 184.4 L1250 185.6 L1251 185.7 L1252 185.9 L1253 185.9 L1254 185.9 L1255 185.1 L1256 185.7 L1257 185.7 L1258 185.9 L1259 186.3 L1260 186.6 L1261 187.4 L1262 184.5 L1263 186.4" fill="none" stroke="#0000ff" stroke-width="6.3" stroke-linejoin="miter" stroke-miterlimit="2.5" stroke-linecap="butt" />
<path d="M878.4 186.5 L882 196 L885.6 186.8 Z" fill="#0000ff"/>
<path d="M925.5 187.9 L930 222 L934.5 187.5 Z" fill="#0000ff"/>
<path d="M930.4 191.8 L934 136 L937.6 190.5 Z" fill="#0000ff"/>
<path d="M941.1 186.6 L946.5 216.3 L951.9 183.2 Z" fill="#0000ff"/>
<path d="M951.1 187 L954.7 196 L958.3 166.6 Z" fill="#0000ff"/>
<path d="M980.3 166 L984.8 94.2 L989.3 149.5 Z" fill="#0000ff"/>
<path d="M982.8 163.7 L986.4 182.1 L990 143.1 Z" fill="#0000ff"/>
<path d="M983.5 166.9 L988 90.9 L992.5 142.5 Z" fill="#0000ff"/>
<path d="M986.1 157.7 L989.7 182 L993.3 137.3 Z" fill="#0000ff"/>
<path d="M987.7 155.5 L991.3 100.7 L994.9 138.8 Z" fill="#0000ff"/>
<path d="M988.3 153.3 L993.7 77.9 L999.1 134.9 Z" fill="#0000ff"/>
<path d="M994.2 139.6 L997.8 125 L1001.4 135 Z" fill="#0000ff"/>
<path d="M997.4 135.6 L1001.9 95.8 L1006.4 135.6 Z" fill="#0000ff"/>
<path d="M999.1 131.2 L1002.7 156 L1006.3 131.8 Z" fill="#0000ff"/>
<path d="M1078.8 161.8 L1083.3 184 L1087.8 166.5 Z" fill="#0000ff"/>
<path d="M1086.1 166.1 L1090.6 193 L1095.1 168.1 Z" fill="#0000ff"/>
<path d="M1090.1 170.8 L1095.5 154.4 L1100.9 172.6 Z" fill="#0000ff"/>
<path d="M1095.4 168.2 L1099 186 L1102.6 169.1 Z" fill="#0000ff"/>
<path d="M1099.2 168.6 L1102.8 187 L1106.4 168.9 Z" fill="#0000ff"/>
<path d="M1100 172.5 L1103.6 162.6 L1107.2 172.7 Z" fill="#0000ff"/>
<path d="M1103.4 172.9 L1107 166 L1110.6 172.8 Z" fill="#0000ff"/>
<path d="M1125.1 178.5 L1130.5 131.6 L1135.9 178.6 Z" fill="#0000ff"/>
<path d="M1132.5 173.8 L1137 214.6 L1141.5 174.2 Z" fill="#0000ff"/>
<path d="M1137.4 178.8 L1141 164.2 L1144.6 178 Z" fill="#0000ff"/>
<path d="M1074.4 164.5 L1078 158 L1081.6 167.2 Z" fill="#0000ff"/>
<path d="M1037.3 150.1 L1040.9 140 L1044.5 150.8 Z" fill="#0000ff"/>
<path d="M997.7 135.3 L1000.5 101.6 L1003.4 135.1 Z" fill="#0000ff"/>
<path d="M985.3 159.6 L987.9 178 L990.5 142.2 Z" fill="#0000ff"/>
<path d="M985.2 159.6 L987.9 176.9 L990.5 142.2 Z" fill="#0000ff"/>
<path d="M990.3 142.6 L993.3 166.5 L996.2 133.3 Z" fill="#0000ff"/>
<path d="M997.7 131.4 L1000.1 155.7 L1002.5 131.3 Z" fill="#0000ff"/>
<path d="M994.5 139.3 L997.6 102.7 L1000.6 135 Z" fill="#0000ff"/>
<path d="M1079.4 162.1 L1081.9 175.3 L1084.4 165.2 Z" fill="#0000ff"/>
<path d="M1080.1 162.5 L1083 176.7 L1085.9 166 Z" fill="#0000ff"/>
<path d="M1103.4 172.9 L1106.4 161.4 L1109.4 172.6 Z" fill="#0000ff"/>
<path d="M1092 167.4 L1095.1 179.7 L1098.2 168.5 Z" fill="#0000ff"/>
<path d="M1091.1 171 L1094.7 160.5 L1098.3 172.3 Z" fill="#0000ff"/>
<path d="M1094.6 171.8 L1098.6 164 L1102.5 172.8 Z" fill="#0000ff"/>
<path d="M1066.7 157.8 L1070.6 167.6 L1074.4 160.7 Z" fill="#0000ff"/>
<path d="M1038.1 149.4 L1040.7 139.3 L1043.2 149.3 Z" fill="#0000ff"/>
<path d="M1074.5 160.7 L1077.7 169.3 L1081 163.1 Z" fill="#0000ff"/>
<path d="M1036.2 151.3 L1040 140.8 L1043.9 150.1 Z" fill="#0000ff"/>
<path d="M1066.9 161.6 L1070.3 155.9 L1073.8 164.3 Z" fill="#0000ff"/>
<path d="M763 332.4 L764 330.6 L765 331.6 L766 330.7 L767 330 L768 330.8 L769 329.5 L770 328.7 L771 330.1 L772 327.5 L773 326.3 L774 325.7 L775 326 L776 326.6 L777 326.3 L778 325 L779 326 L780.1 326.5 L781.1 326.3 L782.2 325.3 L783.2 325.9 L784.3 325.2 L785.3 324 L786.3 325.2 L787.4 324.5 L788.4 324.2 L789.5 326.1 L790.5 324.9 L791.5 323.7 L792.6 324 L793.6 326.1 L794.7 323.7 L795.7 324.6 L796.8 324.4 L797.8 323.7 L798.8 324 L799.8 323.9 L800.8 322.7 L801.8 322.6 L802.8 322.6 L803.8 322.3 L804.8 323.1 L805.9 323.6 L806.9 321.2 L807.9 322.3 L808.9 320.7 L809.9 320.8 L810.9 321 L811.9 321.1 L812.9 320.5 L813.9 318.3 L814.9 321.7 L815.9 320 L816.9 319.5 L817.9 320.5 L819 319.2 L820 318.2 L821 319.8 L822 319.5 L823 318.2 L824 319.5 L825 318.9 L826 318.3 L827 317.3 L828 319.9 L829 318.5 L830 317.2 L831 318.6 L832 318.3 L833 319 L834 316.9 L835 319.1 L836 318.9 L837 318.7 L838 318.6 L839 319.2 L840 318.6 L841 318.1 L842 317.2 L843 318.9 L844 318.8 L845 318.1 L846 318 L847 318.4 L848 315.5 L849 318 L850 315.4 L851 317.9 L852 318.6 L853 319.4 L854 317.2 L855 318 L856 317.5 L857 315.5 L858 318.2 L859 317.4 L860 317.5 L861 316.5 L862 317.3 L863 317.4 L864 318.5 L865 317.6 L866 320.5 L867 317.2 L868 315.8 L869 314.9 L870 314.1 L871 312.3 L872 312 L873 311.6 L874 309 L875 305.5 L876 304.9 L877 303 L878 304.7 L879 302.9 L880 305 L881 305.2 L882 306 L883 308.8 L884 307.8 L885 307.7 L886 308.2 L887 311.1 L888 309.6 L889 310.7 L890 313.4 L891 310.4 L892 312.2 L893 312.7 L894 312.9 L895 314 L896 314.4 L897.1 315.7 L898.1 315 L899.2 314.8 L900.2 317.8 L901.3 318.4 L902.3 317 L903.4 318.4 L904.4 316.2 L905.5 320.1 L906.5 318.4 L907.6 319.6 L908.6 322.6 L909.7 320 L910.7 321.6 L911.8 321.2 L912.8 322.6 L913.8 320.7 L914.8 321.1 L915.8 322.2 L916.8 320.5 L917.9 321 L918.9 321.9 L919.9 320.9 L920.9 319.6 L921.9 322 L922.9 320.5 L923.9 321.4 L924.9 319 L925.9 321.2 L926.9 318.2 L928 317.7 L929 318.6 L930 318.5 L931 318.8 L932 318.3 L933 317.8 L934 318.8 L935 319.4 L936 317.6 L937 316.9 L938 317.8 L939 318.8 L940 318 L941 318.4 L942 316.9 L943 315.9 L944 316.4 L945 316 L946 316.8 L947 315.2 L948 316.9 L949 315.8 L950 315.8 L951 314.9 L952 316.6 L953 315.3 L954 313.8 L955 315 L956 314.8 L957 312.7 L958 313 L959 311.2 L960 309.5 L961 309.2 L962 308 L963 307 L964 306 L965 306.2 L966 306.3 L967 305 L968 304.2 L969 303.2 L970 303 L971 302.2 L972 300.6 L973 299.9 L974 298 L975 298.3 L976 295 L977 291.9 L978 291.7 L979 290.5 L980 289.2 L981 285.3 L982 285 L983 281.4 L984 280 L985 278.5 L986 276 L987 271.2 L988 270 L989 267.2 L990.1 265.1 L991.1 261.1 L992.1 257.1 L993.2 254.4 L994.2 252 L995.5 257.8 L996.7 267.1 L998 273 L999 274.2 L1000 275.5 L1001 276.5 L1002 278.6 L1003 279.4 L1004 280.7 L1005 283 L1006 283.7 L1007 284.2 L1008 285.5 L1009 285.9 L1010 287.5 L1011 287.1 L1012 288.1 L1013 288.7 L1014 288.5 L1015 291 L1016 290 L1017 291.2 L1018 290.3 L1019 293.4 L1020 293.4 L1021 292.8 L1022 294.7 L1023 295.3 L1024 295.5 L1025 294.4 L1026 296.1 L1027 295.5 L1028 296.4 L1029 297 L1030 298 L1031 297.7 L1032 299.4 L1033 298.7 L1034 300.5 L1035 300.5 L1036 300.3 L1037 301.5 L1038 302.4 L1039 303.3 L1040 302.5 L1041 304.7 L1042 304.2 L1043 305.2 L1044 303.3 L1045 305 L1046 304.4 L1047 306.7 L1048 305.7 L1049.1 306.7 L1050.1 307.6 L1051.1 305.5 L1052.1 307.5 L1053.1 309.2 L1054.1 308.5 L1055.2 308.1 L1056.2 308.8 L1057.2 308.6 L1058.2 309.6 L1059.2 310.4 L1060.2 309.3 L1061.3 310.4 L1062.3 310.4 L1063.3 311.1 L1064.3 310.7 L1065.3 311.6 L1066.3 310 L1067.4 312.2 L1068.4 312 L1069.4 310.4 L1070.4 311.3 L1071.4 310.3 L1072.4 311.5 L1073.5 312.2 L1074.5 311 L1075.5 311.5 L1076.5 311.5 L1077.5 311.8 L1078.5 311.8 L1079.6 311.7 L1080.6 313.3 L1081.6 312.9 L1082.6 313.4 L1083.7 313.5 L1084.8 315.7 L1085.8 315 L1086.8 316.9 L1087.9 315.6 L1089 318.7 L1090 318 L1091 317.6 L1092 317.2 L1093 318.4 L1094 316.8 L1095 317.1 L1096 318.3 L1097 317.6 L1098 318.4 L1099 318.2 L1100 318 L1101 317.7 L1102 317 L1103 316.9 L1104 315.7 L1105 316.1 L1106 315.4 L1107 312.2 L1108 311.8 L1109 314.2 L1110 311.8 L1111 311.8 L1112 311 L1113 311.1 L1114 311.5 L1115 313.4 L1116 310.9 L1117 311.7 L1118 311.8 L1119 310.9 L1120 312 L1121 311.5 L1122 312.4 L1123 312.9 L1124 313.6 L1125 311.8 L1126 312.4 L1127 315.6 L1128 314.3 L1129 315.5 L1130 315 L1131 314.7 L1132 314.4 L1133 316.9 L1134 313.9 L1135 314.2 L1136 315.6 L1137 315.1 L1138 313.6 L1139 315.2 L1140 315 L1141 315.6 L1142 313.5 L1143 314.2 L1144 315.3 L1145 316.3 L1146 312.3 L1147 313.7 L1148 314.3 L1149 313.3 L1150 314 L1151 313.6 L1152 314.3 L1153 315.6 L1154 314.5 L1155 316.6 L1156 316.9 L1157 317.3 L1158 318.3 L1159 316.8 L1160 317.6 L1161 318.9 L1162 318.3 L1163 319.4 L1164.1 319.1 L1165.1 317.8 L1166.1 317.7 L1167.1 316.9 L1168.2 317.6 L1169.2 317.2 L1170.2 317.5 L1171.3 317.5 L1172.3 318.6 L1173.3 318.5 L1174.3 317.7 L1175.4 316.6 L1176.4 317.6 L1177.4 317.9 L1178.5 318.3 L1179.5 317.6 L1180.5 318.1 L1181.5 316.7 L1182.6 317.9 L1183.6 317.2 L1184.6 318.1 L1185.7 317.2 L1186.7 317 L1187.8 319 L1188.8 317.1 L1189.8 318.8 L1190.9 318.1 L1191.9 318.2 L1192.9 318.4 L1194 318.4 L1195 318.9 L1196.1 320.7 L1197.1 320.6 L1198.1 319.3 L1199.2 320 L1200.2 320.6 L1201.2 319.5 L1202.3 321.7 L1203.3 320.2 L1204.4 320.9 L1205.4 320.5 L1206.5 319.4 L1207.6 318.9 L1208.7 318.7 L1209.7 318.7 L1210.8 319.9 L1211.9 318.4 L1213 318.3 L1214 319.9 L1215 319.6 L1216 319.9 L1217 321.7 L1218 322 L1219 321.7 L1220 324 L1221 325.4 L1222 327.8 L1223 327.8 L1224 328.3 L1225 330 L1226 332 L1227 329.1 L1228 328.1 L1229 325.7 L1230 324.6 L1231 323 L1232 321 L1233 322.3 L1234 320.1 L1235 319.4 L1236 322.8 L1237 321.8 L1238 321.2 L1239 322 L1240 321.6 L1241 320.8 L1242 321.3 L1243 322.2 L1244 321.3 L1245 321.8 L1246 322 L1247 321.7 L1248 321.4 L1249 322.1 L1250 322.8 L1251 322.8 L1252 320.8 L1253 322.3 L1254 319.9 L1255 320.4 L1256 322 L1257 322.1 L1258 322.9 L1259 320.1 L1260 322.6 L1261 321.1 L1262 321.2 L1263 321.6" fill="none" stroke="#00ff00" stroke-width="6.3" stroke-linejoin="miter" stroke-miterlimit="2.5" stroke-linecap="butt" />
<path d="M796.1 325.7 L799.5 308.5 L802.9 324.6 Z" fill="#00ff00"/>
<path d="M895.5 316.2 L899.8 295.5 L904 320.3 Z" fill="#00ff00"/>
<path d="M936.8 320 L941 302 L945.2 317.9 Z" fill="#00ff00"/>
<path d="M939.8 316.1 L944 332 L948.2 313.8 Z" fill="#00ff00"/>
<path d="M945.7 317.8 L950.8 285.7 L955.9 316 Z" fill="#00ff00"/>
<path d="M951.8 313.4 L956 338 L960.2 307.9 Z" fill="#00ff00"/>
<path d="M956.6 311.5 L960 325 L963.4 305.2 Z" fill="#00ff00"/>
<path d="M960.8 311.1 L965 298 L969.2 305.4 Z" fill="#00ff00"/>
<path d="M968.6 305.8 L972 290 L975.4 297.7 Z" fill="#00ff00"/>
<path d="M973.6 300 L977.9 271.6 L982.1 286.5 Z" fill="#00ff00"/>
<path d="M988.2 271.2 L994.2 242.3 L1000.2 278 Z" fill="#00ff00"/>
<path d="M1014.5 291.3 L1018.7 282.5 L1023 296.2 Z" fill="#00ff00"/>
<path d="M1038.3 300 L1042.6 327 L1046.8 303.7 Z" fill="#00ff00"/>
<path d="M1041.6 305.3 L1045 293 L1048.4 307.9 Z" fill="#00ff00"/>
<path d="M1061.6 311.8 L1065 300 L1068.4 313.1 Z" fill="#00ff00"/>
<path d="M1081.6 311 L1085 322 L1088.4 315.1 Z" fill="#00ff00"/>
<path d="M1088.2 315 L1092.5 338 L1096.8 316.1 Z" fill="#00ff00"/>
<path d="M1093.7 319.9 L1097.9 295.5 L1102.2 318.6 Z" fill="#00ff00"/>
<path d="M1099 316.1 L1103.3 338 L1107.5 311.7 Z" fill="#00ff00"/>
<path d="M1116.7 313.5 L1121.8 286.8 L1126.9 316 Z" fill="#00ff00"/>
<path d="M1124 311.3 L1128.3 339 L1132.5 313.1 Z" fill="#00ff00"/>
<path d="M1131.6 316.9 L1135 305 L1138.4 316.9 Z" fill="#00ff00"/>
<path d="M1144.4 312.7 L1147.8 332 L1151.2 312.5 Z" fill="#00ff00"/>
<path d="M1147.1 316.2 L1152.2 282.5 L1157.3 318.5 Z" fill="#00ff00"/>
<path d="M1154.6 317.5 L1158 300 L1161.4 320 Z" fill="#00ff00"/>
<path d="M1183.6 319.1 L1187 300 L1190.4 320.1 Z" fill="#00ff00"/>
<path d="M1185.8 319.4 L1190 283.6 L1194.2 320.7 Z" fill="#00ff00"/>
<path d="M1191.6 320.3 L1195 295 L1198.4 321.3 Z" fill="#00ff00"/>
<path d="M1193.5 320.6 L1197.8 283.6 L1202 321.9 Z" fill="#00ff00"/>
<path d="M1219.5 321.7 L1223.8 341 L1228 326.4 Z" fill="#00ff00"/>
<path d="M1227.2 331.8 L1231.4 285.7 L1235.7 323.2 Z" fill="#00ff00"/>
<path d="M1248.2 323.5 L1254.2 301 L1260.2 323.5 Z" fill="#00ff00"/>
<path d="M1254.6 319.7 L1258 335 L1261.4 319.7 Z" fill="#00ff00"/>
<path d="M965.3 304.1 L968.9 316.3 L972.5 297.8 Z" fill="#00ff00"/>
<path d="M982.1 286.7 L985.1 267.4 L988.1 271.5 Z" fill="#00ff00"/>
<path d="M938.7 319.9 L941.6 304.5 L944.6 318.1 Z" fill="#00ff00"/>
<path d="M957.9 314 L961.1 296 L964.3 308.4 Z" fill="#00ff00"/>
<path d="M978.4 289.1 L981.3 297.4 L984.1 277.9 Z" fill="#00ff00"/>
<path d="M960.7 311.2 L963.9 299.5 L967.2 306.6 Z" fill="#00ff00"/>
<path d="M954.8 316.9 L958.4 299.9 L962 309.9 Z" fill="#00ff00"/>
<path d="M985.6 278 L988.2 254.9 L990.8 263.9 Z" fill="#00ff00"/>
<path d="M971.1 303.4 L973.7 283.8 L976.3 296.3 Z" fill="#00ff00"/>
<path d="M985.1 279.1 L988 260.8 L990.9 263.5 Z" fill="#00ff00"/>
<path d="M968.9 305.6 L971.5 292.4 L974.2 299.4 Z" fill="#00ff00"/>
<path d="M972 302.3 L974.5 286.5 L977.1 295.1 Z" fill="#00ff00"/>
<path d="M978.7 292.4 L981.9 275.7 L985.2 278.9 Z" fill="#00ff00"/>
<path d="M943.2 318.6 L945.5 304.6 L947.9 317.6 Z" fill="#00ff00"/>
<path d="M965.8 303.7 L968.8 318.4 L971.8 298.7 Z" fill="#00ff00"/>
<path d="M952.5 317.1 L955.8 303.1 L959.1 312.8 Z" fill="#00ff00"/>
<path d="M1037.1 299.4 L1040.1 308.8 L1043 302.2 Z" fill="#00ff00"/>
<path d="M1045.3 307 L1048.8 298.4 L1052.3 309.1 Z" fill="#00ff00"/>
<path d="M1002.2 280.9 L1005.6 275.2 L1008.9 287.6 Z" fill="#00ff00"/>
<path d="M1023 296.2 L1025.9 290.3 L1028.7 299.2 Z" fill="#00ff00"/>
<path d="M1030.3 300 L1033.1 292.8 L1035.9 302.7 Z" fill="#00ff00"/>
<path d="M1006.3 282 L1009 294.8 L1011.8 285.8 Z" fill="#00ff00"/>
<path d="M1023 292.4 L1026.5 302.4 L1030 296.1 Z" fill="#00ff00"/>
<path d="M997.7 269.3 L1001.3 284.8 L1005 281.1 Z" fill="#00ff00"/>
<path d="M1114.7 309.4 L1116.9 321 L1119.2 310 Z" fill="#00ff00"/>
<path d="M1117.5 313.6 L1120.7 303 L1124 315.1 Z" fill="#00ff00"/>
<path d="M1239 319.6 L1241.9 329.1 L1244.7 319.7 Z" fill="#00ff00"/>
<path d="M1150.3 316 L1152.9 307.8 L1155.4 317.8 Z" fill="#00ff00"/>
<path d="M1175.2 319.5 L1177.9 309.6 L1180.5 319.2 Z" fill="#00ff00"/>
<path d="M1228.7 325.2 L1231.2 331.1 L1233.7 319.2 Z" fill="#00ff00"/>
<path d="M1091.2 319.9 L1093.5 311.2 L1095.9 319.9 Z" fill="#00ff00"/>
<path d="M1147.6 312.4 L1149.8 320.8 L1152.1 312.9 Z" fill="#00ff00"/>
<path d="M1199.7 321.5 L1202 314.4 L1204.3 322.2 Z" fill="#00ff00"/>
<path d="M1169.3 316 L1171.7 327.6 L1174.2 315.8 Z" fill="#00ff00"/>
<path d="M1098.8 316.1 L1102.1 325.1 L1105.3 313 Z" fill="#00ff00"/>
<path d="M1141.7 312.9 L1144.8 320.7 L1147.9 312.3 Z" fill="#00ff00"/>
<path d="M1190.6 320.2 L1193.2 311.9 L1195.8 320.9 Z" fill="#00ff00"/>
<path d="M1190.7 320.2 L1194 312.6 L1197.3 321.2 Z" fill="#00ff00"/>
<path d="M1130.6 313.1 L1133.6 320.9 L1136.6 313.1 Z" fill="#00ff00"/>
<path d="M1122 310.7 L1125.4 321.2 L1128.8 312.8 Z" fill="#00ff00"/>
<path d="M1079.8 314.6 L1082.5 304.2 L1085.2 317 Z" fill="#00ff00"/>
<path d="M1169.2 319.8 L1171.8 310.7 L1174.3 319.6 Z" fill="#00ff00"/>
<path d="M1072.3 313.6 L1074.8 303.7 L1077.3 314.2 Z" fill="#00ff00"/>
<path d="M1249.6 319.7 L1251.9 327.7 L1254.3 319.7 Z" fill="#00ff00"/>
<path d="M925.4 317.9 L928.9 325.8 L932.5 316.4 Z" fill="#00ff00"/>
<path d="M906.3 321.3 L909.4 315.2 L912.6 324.4 Z" fill="#00ff00"/>
<path d="M880.6 303.3 L883.4 311.9 L886.2 307 Z" fill="#00ff00"/>
<path d="M786.5 322.6 L790 330.2 L793.5 322.1 Z" fill="#00ff00"/>
<path d="M856.2 315.6 L859.2 322.9 L862.1 315.4 Z" fill="#00ff00"/>
<path d="M817.5 321.8 L821 313.3 L824.6 320.5 Z" fill="#00ff00"/>
<path d="M864.5 319.2 L867 312.3 L869.5 316.5 Z" fill="#00ff00"/>
<path d="M825.2 316.6 L828.3 323.9 L831.5 316.3 Z" fill="#00ff00"/>
<path d="M881.5 307.6 L884.6 302.2 L887.7 311.7 Z" fill="#00ff00"/>
<path d="M862.9 315.4 L866.1 323.3 L869.3 313 Z" fill="#00ff00"/>
<path d="M763 443.8 L764 443.7 L765 445 L766 443.2 L767 442.4 L768 444 L769 444.3 L770 444.1 L771 444.3 L772 443.8 L773 443.4 L774 443.3 L775 443.7 L776 443.6 L777 444.6 L778 444.4 L779 442.9 L780 444.4 L781 443.9 L782 444.8 L783 445.1 L784 444.3 L785 442.5 L786 444.4 L787 442.6 L788 445.2 L789 443.4 L790 443.7 L791 445.4 L792 442.5 L793 443.9 L794 443 L795 443.5 L796 443.2 L797 444.4 L798 443.6 L799 444.2 L800 444.4 L801 442.5 L802 445 L803 443.8 L804 443.5 L805 442.1 L806 442.7 L807 443.7 L808 443.5 L809 441.9 L810 442.3 L811 442.2 L812 442.6 L813 441.4 L814 442.1 L815 441 L816 440.2 L817 440.1 L818 441 L819 440.9 L820 440.1 L821 440.4 L822 439.9 L823 440.1 L824 440.2 L825 439.5 L826 439.6 L827 438.4 L828 438 L829 436.4 L830 438 L831 438.4 L832 438.2 L833 438.6 L834 436.7 L835 437.8 L836 437.8 L837 436.8 L838 439 L839 439.3 L840 437.3 L841 438.7 L842 439.8 L843 437.4 L844 439.2 L845 439.7 L846 440 L847 437.3 L848 437.6 L849 438.7 L850 439.5 L851 437.5 L852 438 L853 437.7 L854 439.5 L855 438.2 L856 439.1 L857 439.2 L858 439.6 L859 439.1 L860 439 L861 439.7 L862 439.2 L863 437.8 L864 438.4 L865 439.6 L866 439 L867 438.8 L868 438.6 L869 439.2 L870 441.7 L871 439 L872 439.5 L873 439.5 L874 438.9 L875 440.2 L876 439.9 L877 439.6 L878 438.2 L879 440.4 L880 440 L881 439.3 L882 437.2 L883 439.4 L884 438.5 L885 439.4 L886 439.2 L887 438.9 L888 440.5 L889 439.8 L890 440.7 L891 439 L892 439.6 L893 441 L894 440.1 L895 439.3 L896 439.2 L897 439.5 L898 440 L899 440.6 L900 440 L901 440.6 L902 441.4 L903 441.8 L904 441.6 L905 442.9 L906 442.8 L907 442.4 L908 442.8 L909 443.3 L910 443 L911 442.9 L912 444.4 L913 444.3 L914 445.5 L915 444.9 L916 445.8 L917 446 L918 445.9 L919 445 L920 445.3 L921 444.2 L922 444.1 L923 444.7 L924 444.1 L925 443.4 L926 442.4 L927 443.3 L928 444.1 L929 440.3 L930 442.6 L931 441.6 L932 441 L933 441.7 L934 441.6 L935 439.5 L936 441.5 L937 439.4 L938 439.4 L939 439.9 L940 439.1 L941 438.8 L942 438.3 L943 436.9 L944 435.6 L945 435.7 L946 434 L947 435.2 L948 433.5 L949 433.6 L950 430.7 L951 429.2 L952 430 L953 428.5 L954 430.4 L955 429.9 L956 431.6 L957 430.4 L958 430.7 L959 432.4 L960 432.2 L961 433.3 L962 433 L963 433.6 L964 433 L965 431.5 L966 431.6 L967 433.9 L968 431.7 L969 431.9 L970 431.6 L971 431.2 L972 420.9 L973 410.3 L974 400 L975 391.1 L976 383 L977 382.9 L978 381.8 L979 385.1 L980 383.8 L981 384 L982 386.3 L983 391 L984 394.4 L985 397 L986 395.6 L987 396 L988 397.3 L989 396.2 L990 395.7 L991 395.9 L992 394.6 L993 394.3 L994 395.3 L995 398 L996 397.7 L997 399 L998 400.8 L999 401.4 L1000 401.6 L1001 405.3 L1002 404.8 L1003 407.6 L1004 407.7 L1005 407.7 L1006 409.5 L1007 411.4 L1008 410.5 L1009 410.5 L1010 411.6 L1011.1 411.5 L1012.2 409.7 L1013.3 411.6 L1014.4 410.5 L1015.4 410.8 L1016.5 410.1 L1017.6 411.3 L1018.7 410.5 L1019.8 413.1 L1020.9 415.8 L1022 418.5 L1023.1 419.6 L1024.1 421.6 L1025.2 424 L1026.3 425.2 L1027.4 428 L1028.4 427.7 L1029.4 428.8 L1030.4 427.6 L1031.5 426.8 L1032.5 428.1 L1033.5 428.7 L1034.5 429.8 L1035.5 428 L1036.5 427.9 L1037.5 428.8 L1038.5 428.7 L1039.6 429.1 L1040.6 428.5 L1041.6 429.2 L1042.6 429 L1043.7 427.8 L1044.8 428.4 L1045.8 427 L1046.9 426.5 L1048 424.9 L1049.1 423.3 L1050.2 423.8 L1051.2 423 L1052.3 423.1 L1053.4 421.4 L1054.4 422.3 L1055.5 421.5 L1056.5 421.6 L1057.6 420.8 L1058.6 421.6 L1059.6 421.9 L1060.7 421.4 L1061.7 420.9 L1062.7 422.9 L1063.8 421.1 L1064.8 423.2 L1065.8 422.9 L1066.9 423.2 L1067.9 421.3 L1069 422.6 L1070 422 L1071 420.9 L1072 421.6 L1073 420.5 L1074 421.1 L1075 421.2 L1076 422.3 L1077 422.3 L1078 421 L1079 421 L1080 420.4 L1081 420.1 L1082 419.5 L1083 420.7 L1084 421.2 L1085 420 L1086 420.9 L1087 419.5 L1088 420.3 L1089 419.5 L1090 419.8 L1091 420.8 L1092 419.6 L1093 420.5 L1094 419.5 L1095 418.8 L1096 418 L1097 419.2 L1098 418.7 L1099 420.1 L1100 419.6 L1101 417.8 L1102 419.8 L1103 419.4 L1104 416.5 L1105 418 L1106 418.9 L1107 417.3 L1108 417.9 L1109 418.9 L1110 418.5 L1111 418.6 L1112 418.7 L1113 418 L1114 417.8 L1115.1 420.9 L1116.1 419.8 L1117.1 421.6 L1118.2 420.1 L1119.2 421.2 L1120.2 421.5 L1121.3 421.5 L1122.3 422.3 L1123.3 422.7 L1124.4 423.6 L1125.4 423.7 L1126.4 423.9 L1127.5 424.7 L1128.5 425.9 L1129.5 425.2 L1130.6 426.1 L1131.6 426 L1132.6 426.2 L1133.6 424.6 L1134.7 425.5 L1135.7 425.5 L1136.7 425.2 L1137.7 425.8 L1138.7 425 L1139.7 426.7 L1140.8 426.1 L1141.8 427.5 L1142.8 426.9 L1143.8 425.6 L1144.8 426.5 L1145.8 426.8 L1146.9 426.2 L1147.9 426.5 L1148.9 426.8 L1149.9 426.1 L1150.9 426.5 L1151.9 427.4 L1152.9 427 L1153.9 428.4 L1155 425.8 L1156 427 L1157 427.4 L1158 429 L1159 428.8 L1160 428 L1161 428.7 L1162.1 428.8 L1163.1 429.3 L1164.1 428.6 L1165.1 427.8 L1166.2 428.2 L1167.2 427.4 L1168.2 427.8 L1169.2 428.3 L1170.3 427.6 L1171.3 428.1 L1172.3 427.7 L1173.3 426.9 L1174.4 426.8 L1175.4 428.5 L1176.4 428 L1177.4 428.6 L1178.5 427.9 L1179.5 428 L1180.5 428.2 L1181.5 427.7 L1182.6 429.1 L1183.6 427.9 L1184.6 428.8 L1185.6 428.4 L1186.7 427.3 L1187.7 427.8 L1188.7 428.5 L1189.8 429.3 L1190.8 428.4 L1191.8 428.5 L1192.8 429 L1193.8 428.7 L1194.9 428.6 L1195.9 427.9 L1196.9 429.8 L1198 428.9 L1199 428.6 L1200 429 L1201 429 L1202 428.1 L1203 427.9 L1204 427.9 L1205 429.7 L1206 428.4 L1207 429.6 L1208 428.6 L1209 428.2 L1210 429.2 L1211 429.2 L1212 429.3 L1213 431.3 L1214 430.1 L1215 429.5 L1216 430.8 L1217 429.9 L1218 431.2 L1219 429 L1220 431.2 L1221 429.6 L1222 429.9 L1223 430.7 L1224 429.8 L1225 429.4 L1226 430.4 L1227 430.6 L1228 429.6 L1229 431.7 L1230 431 L1231 430.4 L1232 430.6 L1233 431 L1234 431.3 L1235 432.1 L1236 429.6 L1237 431.4 L1238 432.2 L1239 431.7 L1240 431.5 L1241 430.7 L1242 432 L1243 431.4 L1244 431.9 L1245 431 L1246 431.7 L1247 431.9 L1248 430.9 L1249 432.9 L1250 432.1 L1251 431.2 L1252 432.1 L1253 432.4 L1254 432.1 L1255 431.6 L1256 432.3 L1257 431.5 L1258 431.3 L1259 433.6 L1260 434.1 L1261 434.3 L1262 434.7 L1263 432.9" fill="none" stroke="#ff0000" stroke-width="6.3" stroke-linejoin="miter" stroke-miterlimit="2.5" stroke-linecap="butt" />
<path d="M806.6 441.1 L810 450 L813.4 439.5 Z" fill="#ff0000"/>
<path d="M808.8 444.3 L813 429 L817.2 442.4 Z" fill="#ff0000"/>
<path d="M816.2 442.6 L820.5 429 L824.8 440.9 Z" fill="#ff0000"/>
<path d="M824.6 437.2 L828 450 L831.4 436.1 Z" fill="#ff0000"/>
<path d="M878.1 437.3 L882.4 450 L886.6 437.6 Z" fill="#ff0000"/>
<path d="M892.2 441.6 L896.5 433.3 L900.8 442.2 Z" fill="#ff0000"/>
<path d="M903.1 443 L907.4 428 L911.6 446 Z" fill="#ff0000"/>
<path d="M958.2 430 L961.6 443 L965 430.5 Z" fill="#ff0000"/>
<path d="M948.5 434.7 L951.9 426.8 L955.3 432.9 Z" fill="#ff0000"/>
<path d="M1057 423.4 L1062.1 387.8 L1067.2 423.8 Z" fill="#ff0000"/>
<path d="M1059.8 419.7 L1064 451 L1068.2 420 Z" fill="#ff0000"/>
<path d="M1064.3 423.7 L1068.6 405 L1072.8 423.6 Z" fill="#ff0000"/>
<path d="M1076.2 419.5 L1080.5 437 L1084.8 418.7 Z" fill="#ff0000"/>
<path d="M1094.6 417.8 L1098 430 L1101.4 417.2 Z" fill="#ff0000"/>
<path d="M1101.2 417.2 L1105.5 439 L1109.8 416.4 Z" fill="#ff0000"/>
<path d="M1109.7 420.2 L1113.1 414 L1116.5 421.4 Z" fill="#ff0000"/>
<path d="M1149 428.7 L1153.3 417 L1157.5 429.6 Z" fill="#ff0000"/>
<path d="M1152.2 425.3 L1156.5 448 L1160.8 426.1 Z" fill="#ff0000"/>
<path d="M1159.8 429.9 L1164.1 414.9 L1168.3 429.9 Z" fill="#ff0000"/>
<path d="M1166 426.1 L1170.2 451 L1174.5 426 Z" fill="#ff0000"/>
<path d="M1170.3 429.8 L1175.4 388.2 L1180.5 429.8 Z" fill="#ff0000"/>
<path d="M1029.6 426.3 L1033 436 L1036.4 426.7 Z" fill="#ff0000"/>
<path d="M1176.6 426 L1180 436 L1183.4 426 Z" fill="#ff0000"/>
<path d="M805.8 441.3 L808.8 447.2 L811.9 439.8 Z" fill="#ff0000"/>
<path d="M832.2 439.9 L834.8 430.5 L837.5 440.1 Z" fill="#ff0000"/>
<path d="M877.1 437.3 L879.8 447.2 L882.5 437.5 Z" fill="#ff0000"/>
<path d="M843.7 440.2 L847.3 432.1 L851 440.3 Z" fill="#ff0000"/>
<path d="M893.9 441.7 L896.3 433.4 L898.8 441.8 Z" fill="#ff0000"/>
<path d="M879 441.1 L882.2 432.6 L885.4 441.4 Z" fill="#ff0000"/>
<path d="M887.3 441.4 L890.5 434 L893.8 441.7 Z" fill="#ff0000"/>
<path d="M888 441.5 L890.2 432.6 L892.5 441.6 Z" fill="#ff0000"/>
<path d="M947.6 431.6 L950.7 438.2 L953.9 428.7 Z" fill="#ff0000"/>
<path d="M945.3 437.2 L947.8 424.6 L950.3 433.3 Z" fill="#ff0000"/>
<path d="M965.3 434.2 L968.3 424.6 L971.3 429.9 Z" fill="#ff0000"/>
<path d="M973.1 411.7 L976.1 377.2 L979.1 385.5 Z" fill="#ff0000"/>
<path d="M989.1 393.7 L992.3 400.1 L995.6 395.4 Z" fill="#ff0000"/>
<path d="M943.7 438.5 L946.3 425.7 L948.9 434.4 Z" fill="#ff0000"/>
<path d="M948.9 434.4 L952 421.7 L955.2 432.8 Z" fill="#ff0000"/>
<path d="M958 433.7 L961.6 425.2 L965.1 434.3 Z" fill="#ff0000"/>
<path d="M1137.8 424.4 L1140.9 432.5 L1144 424.7 Z" fill="#ff0000"/>
<path d="M1066.4 420 L1069.7 431 L1073 419.8 Z" fill="#ff0000"/>
<path d="M1021.6 418.2 L1024.4 413.9 L1027.3 429.6 Z" fill="#ff0000"/>
<path d="M1045.7 428.7 L1049.4 417.2 L1053 423.6 Z" fill="#ff0000"/>
<path d="M1078.2 419.3 L1081.8 429.1 L1085.4 418.7 Z" fill="#ff0000"/>
<path d="M1107.4 416.6 L1111 424.3 L1114.5 416.7 Z" fill="#ff0000"/>
<path d="M1149.2 428.7 L1151.7 421.1 L1154.3 429.3 Z" fill="#ff0000"/>
<path d="M1094.4 421.6 L1097.1 411.8 L1099.7 421.1 Z" fill="#ff0000"/>
<path d="M1172.2 426.1 L1175.4 435.8 L1178.6 426 Z" fill="#ff0000"/>
<path d="M1061.7 419.8 L1064 428.9 L1066.3 420 Z" fill="#ff0000"/>
<path d="M1166 426.1 L1169.7 436.9 L1173.4 426.1 Z" fill="#ff0000"/>
<path d="M1161.2 426.1 L1164.1 436.2 L1167 426.1 Z" fill="#ff0000"/>
<path d="M1074.5 419.7 L1078.1 431.4 L1081.8 419 Z" fill="#ff0000"/>
<path d="M1040.4 430.7 L1043 423.3 L1045.6 428.8 Z" fill="#ff0000"/>
<path d="M1124.8 421.2 L1128.1 432.3 L1131.4 424 Z" fill="#ff0000"/>
<path d="M1156 425.7 L1159.6 435.7 L1163.3 426.1 Z" fill="#ff0000"/>
<path d="M763 547 L764 548 L765 547.7 L766 545.8 L767 545.4 L768 546.8 L769 547.5 L770 546.7 L771 545.7 L772 546.4 L773 547.9 L774 545.6 L775 547.6 L776 547.1 L777 547.1 L778 547.3 L779 546.2 L780 546.5 L781 548 L782 546.3 L783 546.2 L784 545.4 L785 546.1 L786 547.1 L787 547.5 L788 547 L789 546.9 L790 546.9 L791 546.6 L792 547.2 L793 546.2 L794 547.2 L795 546.2 L796 545 L797 545.2 L798 546.1 L799 545.8 L800 545.2 L801 545.5 L802 546.3 L803 546.4 L804 546.8 L805 545.4 L806 546.3 L807 546.8 L808 546.3 L809 547.4 L810 545.6 L811 545.9 L812 546 L813 545.6 L814 545.8 L815 546 L816 545.8 L817 545.4 L818 545.4 L819 545.7 L820 544.5 L821 545.9 L822 544.8 L823 545.5 L824 544.8 L825 545.7 L826 545.3 L827 545.4 L828 545 L829 545.6 L830 545.5 L831 546.8 L832 544.1 L833 545.9 L834 545.7 L835 545.3 L836 544.6 L837 546.8 L838 545.8 L839 546.4 L840 545.4 L841 545.1 L842 546.5 L843 546.3 L844 545.5 L845 545.5 L846 546.2 L847 545.1 L848 545.1 L849 545.7 L850 546.6 L851 546.5 L852 546 L853 546.9 L854 545.7 L855 545.5 L856 547.7 L857 545.5 L858 546.4 L859 546.4 L860 546 L861 546.1 L862 546.5 L863 546.4 L864 545.5 L865 546 L866 547.1 L867 546.6 L868 545.7 L869 546.1 L870 545.3 L871 545.1 L872 545.7 L873 547.4 L874 545.7 L875 544.6 L876 546.1 L877 545.6 L878 546.8 L879 547.2 L880 546 L881 546.3 L882 545.6 L883 547.2 L884 545.7 L885 546.3 L886 548.2 L887 545.6 L888 546.5 L889 546.3 L890 546.7 L891 546.7 L892 547.6 L893 546.8 L894 546.9 L895 545.5 L896 546.8 L897 545.4 L898 547.4 L899 546.5 L900 546.5 L901 547.3 L902 546.1 L903 546.7 L904 546.6 L905 546.9 L906 546.4 L907 546 L908 546.2 L909 546 L910 545.7 L911 545.5 L912 545.3 L913 547.9 L914 545.9 L915 545.6 L916 547.2 L917 546.6 L918 546.3 L919 547.3 L920 547.9 L921 545.7 L922 547.5 L923 546.8 L924 547.3 L925 546 L926 547.7 L927 547.3 L928 544.4 L929 547.4 L930 547.4 L931 545.3 L932 546.6 L933 546.2 L934 546.5 L935 545.7 L936 546.8 L937 546.9 L938 546.2 L939 546.3 L940 545 L941 546.7 L942 545.3 L943 546.3 L944 545.7 L945 548.3 L946 546.3 L947 547.5 L948 546.2 L949 546.2 L950 546.8 L951 546.2 L952 548.1 L953 546.1 L954 547.5 L955 545.3 L956 545.5 L957 546.7 L958 545.1 L959 547.8 L960 546.6 L961 546.3 L962 547.6 L963 545.8 L964 545.6 L965 544.2 L966 544.7 L967 545.9 L968 544.6 L969 546.8 L970 546.9 L971 546.5 L972 544.9 L973 545.5 L974 545.1 L975 546.7 L976 546.9 L977 545.9 L978 546.2 L979 546.3 L980 546.7 L981 545.4 L982 545.4 L983 546.7 L984 546.5 L985 546.5 L986 546.1 L987 546.7 L988 546.4 L989 545.6 L990 547.4 L991 546.9 L992 545.9 L993 546 L994 545.5 L995 544.9 L996 545.2 L997 544.9 L998 545.5 L999 546.3 L1000 546 L1001 546 L1002 544.9 L1003 545.9 L1004 545.5 L1005 545.2 L1006 546.9 L1007 545.2 L1008 546.8 L1009 544.7 L1010 546.3 L1011 545.5 L1012 546.9 L1013 546.4 L1014 545.5 L1015 546.6 L1016 547.1 L1017 547.2 L1018 547.3 L1019 545.9 L1020 547.9 L1021 545.7 L1022 546.1 L1023 545 L1024 546 L1025 545.1 L1026 546.3 L1027 544.8 L1028 547.7 L1029 546.9 L1030 547.5 L1031 547.2 L1032 546.4 L1033 546.6 L1034 546.4 L1035 544.8 L1036 545.4 L1037 546 L1038 547 L1039 545.2 L1040 546.5 L1041 545.9 L1042 546.9 L1043 546.9 L1044 545.5 L1045 545.5 L1046 547.5 L1047 547.2 L1048 546.4 L1049 547.1 L1050 546.4 L1051 546.8 L1052 546.1 L1053 546.9 L1054 547.8 L1055 547.6 L1056 547.5 L1057 546.6 L1058 547.2 L1059 546.1 L1060 546.2 L1061 546.6 L1062 545.6 L1063 546.7 L1064 545.1 L1065 547.8 L1066 547.2 L1067 546.8 L1068 546 L1069 546.1 L1070 546.2 L1071 545.2 L1072 546.2 L1073 545.9 L1074 547.3 L1075 547.7 L1076 547.8 L1077 545.5 L1078 545.5 L1079 547.8 L1080 547.3 L1081 547.5 L1082 547.2 L1083 546.8 L1084 548.4 L1085 547.4 L1086 547.2 L1087 545.9 L1088 546.8 L1089 547.8 L1090 547.2 L1091 547.4 L1092 546.6 L1093 547.3 L1094 546.3 L1095 546.6 L1096 547.6 L1097 548.1 L1098 546.5 L1099 546.6 L1100 546.6 L1101 546.6 L1102 546.8 L1103 547.5 L1104 547.1 L1105 546.8 L1106 547.2 L1107 545.4 L1108 546.7 L1109 548.4 L1110 546 L1111 546.4 L1112 547.1 L1113 547.7 L1114 546.7 L1115 546.1 L1116 548.1 L1117 545.1 L1118 546.2 L1119 546.3 L1120 545.1 L1121 548 L1122 548.5 L1123 545.8 L1124 546.6 L1125 546.8 L1126 547.5 L1127 546.8 L1128 547.5 L1129 547.4 L1130 547 L1131 546.9 L1132 547 L1133 548 L1134 547 L1135 547.3 L1136 546.7 L1137 547.3 L1138 548 L1139 546.7 L1140 546.2 L1141 545.9 L1142 547.3 L1143 545.8 L1144 546.8 L1145 548.4 L1146 546.5 L1147 547.7 L1148 546.3 L1149 546.1 L1150 546.6 L1151 545.4 L1152 544.1 L1153 546 L1154 545.4 L1155 546.1 L1156 547.5 L1157 546.4 L1158 544.6 L1159 546.1 L1160 544.3 L1161 543.9 L1162 547.4 L1163 544.9 L1164 543.8 L1165 545.5 L1166 545.3 L1167 545.8 L1168 545.2 L1169 545.2 L1170 546 L1171 545.1 L1172 544.6 L1173 545.5 L1174 544.7 L1175 546 L1176 545.1 L1177 544.9 L1178 544.6 L1179 545.4 L1180 545.7 L1181 544.6 L1182 543 L1183 545.4 L1184 544.1 L1185 545.2 L1186 544.1 L1187 544.9 L1188 544.3 L1189 543.8 L1190 543.4 L1191 544.3 L1192 544.5 L1193 543 L1194 542.3 L1195 544.4 L1196 545.9 L1197 543.5 L1198 543.9 L1199 543.2 L1200 544 L1201 543 L1202 545.1 L1203 542.6 L1204 544.1 L1205 543.2 L1206 544.3 L1207 545 L1208 543.8 L1209 543.4 L1210 544.5 L1211 543.4 L1212 542 L1213 544.6 L1214 543.1 L1215 543.6 L1216 545.2 L1217 544.1 L1218 543.6 L1219 544.7 L1220 542.5 L1221 541.9 L1222 542.3 L1223 543.2 L1224 543.3 L1225 542.5 L1226 544.8 L1227 543.7 L1228 543.1 L1229 542.4 L1230 542.8 L1231 543.1 L1232 542.5 L1233 545.1 L1234 544.1 L1235 543.2 L1236 542.7 L1237 541.2 L1238 543.4 L1239 542 L1240 543.4 L1241 542.8 L1242 541.4 L1243 542.4 L1244 542.2 L1245 542.1 L1246 542.2 L1247 542.3 L1248 542 L1249 542.8 L1250 542.6 L1251 542 L1252 541.9 L1253 541.7 L1254 541.7 L1255 541.8 L1256 542.1 L1257 541.6 L1258 540.3 L1259 541.8 L1260 541 L1261 541.7 L1262 543.7 L1263 541.6" fill="none" stroke="#000" stroke-width="5.8" stroke-linejoin="miter" stroke-miterlimit="2.5" stroke-linecap="butt" />
<path d="M780.4 544.9 L783.6 558 L786.8 544.7 Z" fill="#000"/>
<path d="M786.2 548.2 L790.2 530.8 L794.2 548 Z" fill="#000"/>
<path d="M797.8 544.5 L801 563 L804.2 544.3 Z" fill="#000"/>
<path d="M812.2 547.6 L816.2 522 L820.2 547.5 Z" fill="#000"/>
<path d="M994.6 544.3 L997 553 L999.4 544.3 Z" fill="#000"/>
<path d="M997.6 547.8 L1000 539.5 L1002.4 547.8 Z" fill="#000"/>
<path d="M1000.6 544.3 L1003 556 L1005.4 544.3 Z" fill="#000"/>
<path d="M1011.1 547.8 L1014.3 538.4 L1017.5 547.9 Z" fill="#000"/>
<path d="M1023.1 544.4 L1026.3 562.5 L1029.5 544.5 Z" fill="#000"/>
<path d="M1064 544.8 L1066.4 555.7 L1068.8 544.8 Z" fill="#000"/>
<path d="M1065.1 548.2 L1067.5 539.5 L1069.9 548.3 Z" fill="#000"/>
<path d="M1082.8 548.4 L1086 535.1 L1089.2 548.4 Z" fill="#000"/>
<path d="M1083.8 544.9 L1087 562.5 L1090.2 545 Z" fill="#000"/>
<path d="M1106.9 548.6 L1110.9 523.2 L1114.9 548.6 Z" fill="#000"/>
<path d="M1113.2 545.1 L1116.4 562.5 L1119.6 545.2 Z" fill="#000"/>
<path d="M1119.7 548.7 L1122.9 539.5 L1126.1 548.7 Z" fill="#000"/>
<path d="M1162 547.4 L1165.2 538.4 L1168.4 547.1 Z" fill="#000"/>
<path d="M1177.2 546.7 L1180.4 535.1 L1183.6 546.4 Z" fill="#000"/>
<path d="M1200.6 542.2 L1203 555.7 L1205.4 542.1 Z" fill="#000"/>
<path d="M1203.6 545.6 L1206 537 L1208.4 545.4 Z" fill="#000"/>
<path d="M1207.6 542 L1210 553 L1212.4 541.8 Z" fill="#000"/>
<path d="M1210.8 545.3 L1214 527.5 L1217.2 545.1 Z" fill="#000"/>
<path d="M1224.9 544.8 L1228.1 533 L1231.3 544.5 Z" fill="#000"/>
<path d="M1230.4 541.1 L1233.6 559 L1236.8 540.9 Z" fill="#000"/>
<path d="M1046.8 548.1 L1050.2 540.8 L1053.7 548.2 Z" fill="#000"/>
<path d="M1143.1 548.2 L1146.6 541.4 L1150.1 547.9 Z" fill="#000"/>
<path d="M1155.8 544.2 L1158.7 552.2 L1161.5 543.9 Z" fill="#000"/>
<path d="M1184.1 542.9 L1186.3 550.2 L1188.5 542.8 Z" fill="#000"/>
<path d="M1231.5 541.1 L1234.4 548.5 L1237.4 540.8 Z" fill="#000"/>
<path d="M1218.1 541.6 L1221 550.7 L1223.8 541.4 Z" fill="#000"/>
<path d="M1233.6 541 L1236 549.2 L1238.4 540.8 Z" fill="#000"/>
<path d="M1225.1 544.8 L1227.7 535.5 L1230.3 544.6 Z" fill="#000"/>
<path d="M1062.5 548.2 L1065.8 538.7 L1069.1 548.3 Z" fill="#000"/>
<path d="M1130.8 545.2 L1134 552.4 L1137.2 545 Z" fill="#000"/>
<path d="M1185 546.4 L1187.2 538.5 L1189.4 546.2 Z" fill="#000"/>
<path d="M1022.7 544.4 L1024.9 553.5 L1027.1 544.5 Z" fill="#000"/>
<path d="M1096.2 545 L1098.6 552.3 L1101 545 Z" fill="#000"/>
<path d="M1038.8 548 L1041.5 541.4 L1044.3 548.1 Z" fill="#000"/>
<line x1="935" y1="27.1" x2="935" y2="546" stroke="#000" stroke-width="6.5" stroke-dasharray="16.9 5.9"/>
<line x1="894.4" y1="106.7" x2="912.3" y2="139.7" stroke="#000" stroke-width="3.2"/>
<path d="M919.9 153.8 L901.1 140.1 L912.3 139.7 L918.7 130.6 Z" fill="#000"/>
<line x1="893.3" y1="243" x2="912.5" y2="276.8" stroke="#000" stroke-width="3.2"/>
<path d="M920.4 290.7 L901.3 277.4 L912.5 276.8 L918.7 267.5 Z" fill="#000"/>
<line x1="890" y1="367.8" x2="909.3" y2="402.1" stroke="#000" stroke-width="3.2"/>
<path d="M917.1 416 L898.1 402.6 L909.3 402.1 L915.5 392.8 Z" fill="#000"/>
<line x1="893.3" y1="489.1" x2="912" y2="522.9" stroke="#000" stroke-width="3.2"/>
<path d="M919.7 536.9 L900.8 523.4 L912 522.9 L918.3 513.7 Z" fill="#000"/>
<rect x="761.1" y="20.2" width="503.4" height="544.8" fill="none" stroke="#000" stroke-width="3.4"/>
<text x="761" y="601.2" font-size="30" fill="#000" text-anchor="middle" font-weight="normal" stroke="#000" stroke-width="0.25" >0</text>
<line x1="928.4" y1="565" x2="928.4" y2="553.6" stroke="#000" stroke-width="3"/>
<text x="928.4" y="601.2" font-size="30" fill="#000" text-anchor="middle" font-weight="normal" stroke="#000" stroke-width="0.25" >20</text>
<line x1="1095.8" y1="565" x2="1095.8" y2="553.6" stroke="#000" stroke-width="3"/>
<text x="1095.8" y="601.2" font-size="30" fill="#000" text-anchor="middle" font-weight="normal" stroke="#000" stroke-width="0.25" >40</text>
<text x="1263.5" y="601.2" font-size="30" fill="#000" text-anchor="middle" font-weight="normal" stroke="#000" stroke-width="0.25" >60</text>
<text x="1011.8" y="640.4" font-size="29.5" fill="#000" text-anchor="middle" font-weight="normal" stroke="#000" stroke-width="0.25" >Time (s)</text>
<text x="0" y="0" font-size="29.5" fill="#000" stroke="#000" stroke-width="0.25" text-anchor="middle" transform="translate(745.8 286.3) rotate(-90)">Current (nA)</text>
<rect x="1243.1" y="46.5" width="5.1" height="72.2" fill="#000"/>
<text x="0" y="0" font-size="21.5" fill="#000" stroke="#000" stroke-width="0.25" text-anchor="middle" transform="translate(1232.8 81.9) rotate(-90)">30 nA</text>
<text x="0" y="716" font-size="42" fill="#000" text-anchor="start" font-weight="bold" >c</text>
<rect x="91.7" y="720.4" width="494.7" height="368.1" fill="none" stroke="#000" stroke-width="2.7"/>
<line x1="215.4" y1="1088.5" x2="215.4" y2="1082.5" stroke="#000" stroke-width="2.6"/>
<line x1="339" y1="1088.5" x2="339" y2="1082.5" stroke="#000" stroke-width="2.6"/>
<line x1="462.7" y1="1088.5" x2="462.7" y2="1082.5" stroke="#000" stroke-width="2.6"/>
<line x1="91.7" y1="965.8" x2="97.7" y2="965.8" stroke="#000" stroke-width="2.6"/>
<line x1="91.7" y1="843.1" x2="97.7" y2="843.1" stroke="#000" stroke-width="2.6"/>
<text x="91.7" y="1122.1" font-size="30" fill="#000" text-anchor="middle" font-weight="normal" stroke="#000" stroke-width="0.25" >0</text>
<text x="215.4" y="1122.1" font-size="30" fill="#000" text-anchor="middle" font-weight="normal" stroke="#000" stroke-width="0.25" >30</text>
<text x="339" y="1122.1" font-size="30" fill="#000" text-anchor="middle" font-weight="normal" stroke="#000" stroke-width="0.25" >60</text>
<text x="462.7" y="1122.1" font-size="30" fill="#000" text-anchor="middle" font-weight="normal" stroke="#000" stroke-width="0.25" >90</text>
<text x="586.4" y="1122.1" font-size="30" fill="#000" text-anchor="middle" font-weight="normal" stroke="#000" stroke-width="0.25" >120</text>
<text x="78.9" y="1098.1" font-size="30" fill="#000" text-anchor="end" font-weight="normal" stroke="#000" stroke-width="0.25" >0</text>
<text x="78.9" y="975.4" font-size="30" fill="#000" text-anchor="end" font-weight="normal" stroke="#000" stroke-width="0.25" >20</text>
<text x="78.9" y="852.7" font-size="30" fill="#000" text-anchor="end" font-weight="normal" stroke="#000" stroke-width="0.25" >40</text>
<text x="78.9" y="730" font-size="30" fill="#000" text-anchor="end" font-weight="normal" stroke="#000" stroke-width="0.25" >60</text>
<text x="338.3" y="1161.2" font-size="29.5" fill="#000" text-anchor="middle" font-weight="normal" stroke="#000" stroke-width="0.25" >Time (s)</text>
<text x="0" y="0" font-size="29.5" fill="#000" stroke="#000" stroke-width="0.25" text-anchor="middle" transform="translate(22 904.9) rotate(-90)">Current (nA)</text>
<path d="M92 1022 L93.7 1025.5 L95.3 1028.8 L97 1031 L98.5 1032 L100 1033.5 L101.5 1035.7 L103 1037 L104.8 1039 L106.5 1039.3 L108.2 1039.3 L110 1041 L111.5 1041.1 L113 1042 L114.5 1043.1 L116 1043 L117.5 1043.3 L119 1044 L121 1053 L123 1044 L124.5 1044.8 L126 1045.9 L127.5 1046.2 L129 1047.5 L130.5 1048.6 L132 1050.2 L133.5 1050.1 L135 1051 L136.7 1051.9 L138.3 1051.1 L140 1052.5 L141.7 1052.4 L143.3 1052.4 L145 1053 L146.7 1053.4 L148.4 1054.3 L150.1 1054 L151.8 1055.2 L153.5 1055 L155.1 1056.4 L156.8 1057 L158.4 1057.5 L160 1057 L161.5 1053.8 L163 1052.2 L164.5 1049.1 L166 1047 L168 1067 L169.5 1060.1 L171 1052 L172.5 1057.6 L174 1063 L175.5 1056.2 L177 1049 L178.5 1057.8 L180 1066 L182 1058.7 L184 1052 L186 1055.1 L188 1058 L190 1048 L192 1066 L193.5 1061.6 L195 1058 L196.6 1059.6 L198.1 1058.4 L199.7 1059 L201.3 1058.3 L202.9 1058.8 L204.4 1059.5 L206 1060.3 L207.6 1061 L209.1 1061.2 L210.7 1061.1 L212.2 1060.7 L213.8 1062.4 L215.3 1060.9 L216.9 1061.1 L218.4 1062.1 L220 1062 L221.6 1061.6 L223.2 1062.6 L224.8 1063.2 L226.4 1062.8 L228 1063.3 L229.6 1063.2 L231.2 1063 L232.8 1061.8 L234.4 1063.1 L236 1064 L237.5 1064.1 L239.1 1063.2 L240.6 1063.9 L242.2 1064.5 L243.7 1065.2 L245.2 1063.7 L246.8 1064.2 L248.3 1064.8 L249.8 1065 L251.4 1064 L252.9 1066 L254.5 1064.5 L256 1065 L257.6 1065.7 L259.2 1064.9 L260.7 1065.3 L262.3 1066.1 L263.9 1065.6 L265.5 1065.2 L267 1064.6 L268.6 1064.8 L270.2 1064.4 L271.8 1066.4 L273.3 1064.4 L274.9 1063.8 L276.5 1065.3 L278.1 1066.4 L279.7 1066.3 L281.2 1065.5 L282.8 1066.3 L284.4 1065.4 L286 1066 L288 1058.7 L290 1052 L291 1078 L293 1066 L294.8 1066.3 L296.5 1066.3 L298.2 1065.7 L300 1066 L301.5 1067.1 L303 1066.7 L304.5 1066.4 L306 1065.7 L307.5 1066.6 L309 1066.4 L310.5 1066.7 L312 1067.3 L313.5 1066.6 L315 1067 L316.7 1065.5 L318.3 1064.2 L320 1062 L322 1070 L323.5 1068.7 L325 1068.4 L326.5 1064.5 L328 1064 L329.7 1065.3 L331.3 1066 L333 1068 L335 1067.6 L337 1067.3 L338.5 1086 L340 1065 L342.4 1061.5 L344.7 1009.5 L346.4 999.7 L348.1 986.8 L350 984.3 L351.8 983.6 L353.7 982.3 L355.4 995.7 L357.1 1008.3 L358.8 996 L360.5 983.5 L362.2 992 L363.9 999.3 L365.8 999.9 L367.7 1002.9 L369.6 1003.8 L371.5 995.3 L373.3 987.2 L375.2 980 L377.1 986 L379 991.6 L380.9 997 L382 973.3 L383.7 973.7 L385.4 974.5 L387.1 975.7 L388.8 976.7 L390.3 975.8 L391.8 974.7 L393.3 973.3 L394.8 971.5 L396.3 972.7 L397.8 971 L399.3 970 L400.8 968 L402.4 966.7 L403.9 966.1 L405.4 965.1 L406.9 964.2 L408.8 950.9 L410.6 940.9 L412.5 928 L414.2 914.7 L415.9 900.9 L416.6 742.6 L418.2 808.2 L419.3 934.8 L421.6 955.2 L423.8 946.1 L425.5 955 L427.2 964.2 L428.7 966.7 L430.3 968.9 L431.8 971 L434 982.3 L435.9 986.3 L437.8 989.2 L439.7 992.5 L441.9 981.2 L443.8 981.6 L445.7 981.3 L447.6 980 L449.5 982.1 L451.3 984.3 L453.2 986.8 L455.5 1000.4 L457.2 1000.5 L458.9 1001.4 L460.6 1001.7 L462.3 1002.7 L464 998.8 L465.7 994.8 L467.4 1000.1 L469.1 1005 L470.8 1008.1 L472.5 1010.6 L474 1007.7 L475.5 1006.7 L477 1003.8 L478.6 1003.4 L480.2 1003.3 L481.7 1002.8 L483.3 1001.7 L484.9 1002.8 L486.5 1001.4 L488.1 1002.9 L489.6 1002 L491.2 1002.7 L492.8 1001.5 L494.3 1002.3 L495.8 1002.7 L497.4 1003.5 L498.9 1003 L500.4 1004.3 L501.9 1003.8 L503.5 1004.7 L505.2 1006 L506.8 1006.4 L508.4 1008.2 L510.1 1009.3 L511.7 1009.6 L513.3 1010.1 L515 1011.9 L516.6 1012.9 L517.7 1002.7 L518.5 1011 L520 1011.2 L521.5 1010.8 L523 1010.3 L524.5 1010.4 L526 1010.6 L527.5 1009.2 L529 1010.4 L530.5 1011.5 L532 1009.9 L533.5 1010.6 L535 1010.7 L536.5 1012.1 L538 1011.7 L539.5 1012.1 L541 1011.7 L542.5 1011.2 L544 1013.9 L545.6 1012.6 L547.1 1012.8 L548.6 1013.9 L550.1 1013.6 L551.6 1013.4 L553.1 1012.9 L554.6 1013.7 L556.1 1014 L557.7 1014.3 L559.3 1014.4 L560.9 1014.7 L562.5 1015 L564 1015.9 L565.6 1016.1 L567.2 1017 L568.8 1017.8 L570.4 1017.8 L572 1018 L573.6 1018.1 L575.1 1019 L576.7 1018.6 L578.2 1017.3 L579.8 1017.9 L581.3 1018.5 L582.9 1017.9 L584.4 1018.9 L586 1018.5" fill="none" stroke="#000" stroke-width="4.5" stroke-linejoin="miter" stroke-miterlimit="2.5" stroke-linecap="butt" />
<line x1="120.3" y1="1039" x2="120.3" y2="1057" stroke="#000" stroke-width="3.2" stroke-linecap="round"/>
<line x1="132.4" y1="1050" x2="132.4" y2="1060" stroke="#000" stroke-width="3.2" stroke-linecap="round"/>
<line x1="153.5" y1="1048" x2="153.5" y2="1062" stroke="#000" stroke-width="3.2" stroke-linecap="round"/>
<line x1="166.7" y1="1045" x2="166.7" y2="1070" stroke="#000" stroke-width="3.2" stroke-linecap="round"/>
<line x1="169.7" y1="1046" x2="169.7" y2="1068" stroke="#000" stroke-width="3.2" stroke-linecap="round"/>
<line x1="172.5" y1="1049" x2="172.5" y2="1066" stroke="#000" stroke-width="3.2" stroke-linecap="round"/>
<line x1="175.5" y1="1048" x2="175.5" y2="1068" stroke="#000" stroke-width="3.2" stroke-linecap="round"/>
<line x1="177.7" y1="1050" x2="177.7" y2="1064" stroke="#000" stroke-width="3.2" stroke-linecap="round"/>
<line x1="188.8" y1="1049" x2="188.8" y2="1068" stroke="#000" stroke-width="3.2" stroke-linecap="round"/>
<line x1="218" y1="1061" x2="218" y2="1069" stroke="#000" stroke-width="3.2" stroke-linecap="round"/>
<line x1="290.6" y1="1051" x2="290.6" y2="1079" stroke="#000" stroke-width="3.2" stroke-linecap="round"/>
<line x1="308.8" y1="1062" x2="308.8" y2="1079" stroke="#000" stroke-width="3.2" stroke-linecap="round"/>
<line x1="311.8" y1="1060" x2="311.8" y2="1076" stroke="#000" stroke-width="3.2" stroke-linecap="round"/>
<line x1="322.9" y1="1056" x2="322.9" y2="1067" stroke="#000" stroke-width="3.2" stroke-linecap="round"/>
<line x1="331" y1="1055" x2="331" y2="1071" stroke="#000" stroke-width="3.2" stroke-linecap="round"/>
<line x1="335" y1="1058" x2="335" y2="1070" stroke="#000" stroke-width="3.2" stroke-linecap="round"/>
<text x="203.2" y="967.5" font-size="25" fill="#000" text-anchor="start" font-weight="normal" stroke="#000" stroke-width="0.25" >L-Arg</text>
<text x="478.9" y="770.3" font-size="25" fill="#000" text-anchor="start" font-weight="normal" stroke="#000" stroke-width="0.25" >Brain</text>
<line x1="259.4" y1="980.6" x2="310.2" y2="1033.9" stroke="#000" stroke-width="3.4"/>
<path d="M321.9 1046.2 L298.1 1037.1 L310.2 1033.9 L314 1022 Z" fill="#000"/>
<clipPath id="clip_c"><rect x="94.7" y="723.7" width="184.4" height="160.2"/></clipPath>
<rect x="90" y="719" width="193.8" height="169.6" fill="#000"/>
<g clip-path="url(#clip_c)">
<rect x="94.7" y="723.7" width="184.4" height="160.2" fill="url(#bg_c)"/>
<g filter="url(#blur1)">
<ellipse cx="185.3" cy="814.3" rx="85.6" ry="51.7" fill="#bebfc1" stroke="#d6d6d8" stroke-width="2"/>
<rect x="99.7" y="784.3" width="171.1" height="30" fill="#c3c4c6"/>
<ellipse cx="185.3" cy="784.3" rx="88.2" ry="51.7" fill="#cdced0" stroke="#e2e2e4" stroke-width="3"/>
<ellipse cx="185.3" cy="789.5" rx="79.4" ry="43.4" fill="#d2d3d5" stroke="#bdbdc0" stroke-width="1.5"/>
<path d="M98.9 792.1 A88.2 51.7 0 0 0 123.6 821.5" fill="none" stroke="#f4f4f6" stroke-width="3.5" opacity="0.9"/>
<path d="M271.7 792.1 A88.2 51.7 0 0 1 248.8 820.5" fill="none" stroke="#f4f4f6" stroke-width="3.5" opacity="0.9"/>
<path d="M101.5 802.3 A85.6 51.7 0 0 0 269.1 802.3" fill="none" stroke="#e8e8ea" stroke-width="2" opacity="0.9"/>
<path d="M138 846 C139.3 842.8 143 840.3 150 839 C157 837.7 169.7 837.5 180 838 C190.3 838.5 206.1 839.7 212 842 C217.9 844.3 216.7 848.8 215.5 852 C214.3 855.2 212.6 859.3 205 861 C197.4 862.7 180.5 862.5 170 862 C159.5 861.5 147.3 860.7 142 858 C136.7 855.3 136.7 849.2 138 846 Z" fill="#c3909a"/>
<path d="M138 846 C140 844.8 143 840.3 150 839 C157 837.7 169.7 837.5 180 838 C190.3 838.5 206.1 839.7 212 842 C217.9 844.3 214.9 850.3 215.5 852" fill="none" stroke="#ddbcbc" stroke-width="2" opacity="0.6"/>
<path d="M149.5 781.4 C153.7 778.6 164.3 779 172 779 C179.7 779 190.1 779.2 195.4 781.4 C200.7 783.6 201.8 788.2 204 792 C206.2 795.8 209 800 208.3 804.3 C207.6 808.6 203.3 814.6 200 818 C196.7 821.4 194.2 824.5 188.2 824.4 C182.2 824.3 170.2 820.3 163.8 817.2 C157.4 814.1 152.9 809.6 150 806 C147.1 802.4 146.7 799.8 146.6 795.7 C146.5 791.6 145.3 784.2 149.5 781.4 Z" fill="url(#tis_c)"/>
<path d="M158 800 C170 796 190 800 205 808" stroke="#a8606c" stroke-width="1.5" fill="none"/>
<rect x="158.1" y="721.7" width="37.3" height="45.3" fill="#e2ddd8" opacity="0.6"/>
<line x1="160.1" y1="723.7" x2="160.1" y2="767" stroke="#f2eee8" stroke-width="2" opacity="0.8"/>
<line x1="192.4" y1="723.7" x2="192.4" y2="767" stroke="#f2eee8" stroke-width="2" opacity="0.8"/>
<line x1="158.6" y1="723.7" x2="158.6" y2="767" stroke="#b8b0a8" stroke-width="1" opacity="0.7"/>
<line x1="166.3" y1="723.7" x2="175.3" y2="758.4" stroke="#5a5050" stroke-width="1"/>
<circle cx="175.3" cy="758.4" r="2.3" fill="#1e1a1a"/>
<line x1="173.8" y1="723.7" x2="180.3" y2="760" stroke="#5a5050" stroke-width="1"/>
<circle cx="180.3" cy="760" r="2.3" fill="#1e1a1a"/>
<line x1="181.2" y1="723.7" x2="188.9" y2="759" stroke="#5a5050" stroke-width="1"/>
<circle cx="188.9" cy="759" r="2.3" fill="#1e1a1a"/>
<rect x="183.2" y="767.7" width="10.8" height="5.8" fill="#d8d2a8"/>
</g></g>
<rect x="222.9" y="865.2" width="57" height="15.3" fill="#000"/>
<text x="224.5" y="857.7" font-size="25" fill="#000" text-anchor="start" font-weight="normal" stroke="#000" stroke-width="0.25" >2 cm</text>
<text x="682.5" y="717.3" font-size="42" fill="#000" text-anchor="start" font-weight="bold" >d</text>
<rect x="773.2" y="716.7" width="494.5" height="368.6" fill="none" stroke="#000" stroke-width="2.7"/>
<line x1="896.8" y1="1085.3" x2="896.8" y2="1079.3" stroke="#000" stroke-width="2.6"/>
<line x1="1020.5" y1="1085.3" x2="1020.5" y2="1079.3" stroke="#000" stroke-width="2.6"/>
<line x1="1144.1" y1="1085.3" x2="1144.1" y2="1079.3" stroke="#000" stroke-width="2.6"/>
<line x1="773.2" y1="962.4" x2="779.2" y2="962.4" stroke="#000" stroke-width="2.6"/>
<line x1="773.2" y1="839.6" x2="779.2" y2="839.6" stroke="#000" stroke-width="2.6"/>
<text x="773.2" y="1119.2" font-size="30" fill="#000" text-anchor="middle" font-weight="normal" stroke="#000" stroke-width="0.25" >0</text>
<text x="896.8" y="1119.2" font-size="30" fill="#000" text-anchor="middle" font-weight="normal" stroke="#000" stroke-width="0.25" >30</text>
<text x="1020.5" y="1119.2" font-size="30" fill="#000" text-anchor="middle" font-weight="normal" stroke="#000" stroke-width="0.25" >60</text>
<text x="1144.1" y="1119.2" font-size="30" fill="#000" text-anchor="middle" font-weight="normal" stroke="#000" stroke-width="0.25" >90</text>
<text x="1267.7" y="1119.2" font-size="30" fill="#000" text-anchor="middle" font-weight="normal" stroke="#000" stroke-width="0.25" >120</text>
<text x="761" y="1094.9" font-size="30" fill="#000" text-anchor="end" font-weight="normal" stroke="#000" stroke-width="0.25" >0</text>
<text x="761" y="972" font-size="30" fill="#000" text-anchor="end" font-weight="normal" stroke="#000" stroke-width="0.25" >10</text>
<text x="761" y="849.2" font-size="30" fill="#000" text-anchor="end" font-weight="normal" stroke="#000" stroke-width="0.25" >20</text>
<text x="761" y="726.3" font-size="30" fill="#000" text-anchor="end" font-weight="normal" stroke="#000" stroke-width="0.25" >30</text>
<text x="1019.6" y="1161.2" font-size="29.5" fill="#000" text-anchor="middle" font-weight="normal" stroke="#000" stroke-width="0.25" >Time (s)</text>
<text x="0" y="0" font-size="29.5" fill="#000" stroke="#000" stroke-width="0.25" text-anchor="middle" transform="translate(708.5 900.6) rotate(-90)">Current (nA)</text>
<path d="M774 880.5 L775.5 900 L777.3 911.4 L779 925 L781.4 936 L783 945 L785.5 952.4 L787.6 958.9 L789.7 964.8 L791.2 967.3 L792.8 971.7 L794.3 972.7 L795.8 975 L797.4 977.2 L799.1 979.4 L800.7 980.9 L802.4 982.9 L804 985.3 L805.7 986.9 L807.4 987.8 L809.1 989.8 L810.9 990.7 L812.6 991.2 L814.3 993.5 L815.8 993.6 L817.4 994.6 L818.9 994.8 L820.5 996.6 L822 997.2 L823.5 998.6 L825.1 998.5 L826.6 999.7 L828.1 1000.1 L829.7 1001 L831.2 1001.6 L832.8 1001.2 L834.4 1003.1 L835.9 1002.4 L837.5 1003.9 L839 1003.8 L840.6 1004 L842.2 1004.3 L843.8 1004.2 L845.4 1005.1 L846.9 1006.8 L848.5 1005.5 L850.1 1007 L851.7 1007.3 L853.3 1006.9 L854.8 1007.7 L856.4 1009.5 L858 1010.7 L859.5 1011 L861.5 1020 L864 1008 L865.9 1012.9 L867.7 1018.2 L869.9 1016.8 L872 1016 L874 1020.1 L876 1023 L877.5 1020.2 L879 1017 L880.5 1018.3 L882 1017.6 L883.5 1016.9 L885 1017.7 L886.5 1017.3 L888 1018.5 L889.5 1018.6 L891 1018.2 L892.5 1018.1 L894 1019.3 L895.5 1018.8 L897 1019.8 L898.5 1018.8 L900 1019.5 L901.5 1019.4 L903 1019.4 L904.6 1019.2 L906.1 1021.2 L907.6 1020.7 L909.1 1019.6 L910.7 1020.4 L912.2 1019.1 L913.7 1020.8 L915.2 1020.8 L916.8 1020.1 L918.3 1020.1 L919.8 1020.5 L921.3 1020.7 L922.8 1020.4 L924.4 1020.2 L925.9 1020.5 L927.4 1020.5 L928.9 1021.2 L930.5 1020.9 L932 1021.1 L933.5 1020.2 L935 1020.9 L936.6 1021 L938.1 1021 L939.6 1021.3 L941.3 1021 L943.1 1020.7 L944.8 1019.9 L946.5 1020.9 L948.3 1020.7 L950 1020 L951.7 1021.1 L953.3 1023 L955 1024 L956.7 1021.9 L958.3 1020 L960 1019 L961.5 1019 L963 1020 L964.5 1019.3 L966 1018.6 L967.5 1019.6 L969 1019.3 L970.5 1019.3 L972 1020 L973.5 1019 L975 1020 L976.7 1018.1 L978.3 1017.2 L980 1017.6 L981.7 1016.1 L983.3 1014.7 L985 1014 L986.7 1016 L988.3 1019 L990 1021 L991.5 1017.2 L993 1012 L994.5 1016.6 L996 1022 L998 1022 L1000 1021.6 L1001.7 1022.8 L1003.3 1021.7 L1005 1021.1 L1006.7 1021.4 L1008.3 1021.2 L1010 1021 L1011.7 1021.9 L1013.3 1022.3 L1015 1022.4 L1016.7 1023.1 L1018.4 1023.9 L1020 1023.9 L1021.7 1024.8 L1023.9 1024.3 L1026 1023.7 L1027.1 955.4 L1029.3 990 L1031.4 990.1 L1033.6 991.2 L1035.8 1000.9 L1037.3 1001.8 L1038.8 1002.2 L1040.4 1001.1 L1041.9 1002.3 L1043.4 1002 L1045 1001.8 L1046.5 1001.5 L1048 1001 L1049.6 1000.9 L1051.2 1001 L1052.7 999.5 L1054.2 1000.4 L1055.8 999.4 L1057.3 998.7 L1058.9 998.9 L1060.5 999 L1062 998.3 L1063.5 998.2 L1065.1 997.7 L1066.6 997.7 L1068.2 997.6 L1069.7 998.6 L1071.2 997.6 L1072.8 998.8 L1074.3 998.5 L1075.8 998.3 L1077.3 998.4 L1078.9 998.5 L1080.4 998.7 L1081.9 998.8 L1083.5 998.9 L1085 999 L1086.6 998 L1088.1 997.9 L1089.7 999.2 L1091.3 998.6 L1092.8 998.7 L1094.4 998.9 L1096 998.4 L1097.5 999.7 L1099.1 998.9 L1100.7 998.8 L1102.2 998.3 L1103.8 999.3 L1105.4 999.2 L1106.9 999.6 L1108.5 998.8 L1110 999.2 L1111.6 998.3 L1113.1 998 L1114.6 999.3 L1116.2 998.2 L1117.7 998.4 L1119.2 998.3 L1120.8 998.6 L1122.3 998.6 L1123.9 997.7 L1125.4 997.9 L1126.9 997.2 L1128.5 998.4 L1130 998 L1131.6 997.8 L1133.1 996.9 L1134.7 998.2 L1136.2 997.6 L1137.8 996.9 L1139.4 997.1 L1140.9 996.9 L1142.5 997.1 L1144.1 997.1 L1145.6 996.5 L1147.2 996.9 L1148.7 995.3 L1150.3 996.3 L1151.9 996.7 L1153.4 996.7 L1155 996.5 L1156.6 995.5 L1158.1 995 L1159.7 995.6 L1161.2 996.8 L1162.8 995.5 L1164.3 995.7 L1165.8 995.2 L1167.3 994.7 L1168.8 995.7 L1170.4 995.4 L1171.9 996 L1173.4 995.8 L1174.9 994.5 L1176.4 995.7 L1177.9 996.2 L1179.4 995.5 L1180.9 995.2 L1182.4 995.3 L1184 995.2 L1185.5 997.1 L1187 996.7 L1188.5 995.7 L1190 996 L1191.5 996.8 L1193 995.7 L1194.5 996 L1196 996 L1197.5 996.4 L1199 996.9 L1200.5 997.7 L1202 997.2 L1203.5 996.8 L1205 997 L1206.5 996.9 L1208 997.3 L1209.5 996.8 L1211 997.5 L1212.5 997.7 L1214 998 L1215.5 997.2 L1217 997.7 L1218.5 998 L1220 998.1 L1221.5 997.6 L1223.1 997.1 L1224.6 997.9 L1226.1 998.8 L1227.6 998.3 L1229.1 999.7 L1230.6 998.9 L1232.2 998.3 L1233.7 998.7 L1235.2 999.1 L1236.7 999.2 L1238.2 999 L1239.7 999.4 L1241.2 1000.8 L1242.8 999.8 L1244.3 999.6 L1245.8 999.3 L1247.3 998.7 L1248.8 999.8 L1250.3 999.6 L1251.8 999.9 L1253.4 999.8 L1254.9 1000.5 L1256.4 1000.8 L1257.9 1000 L1259.4 999.7 L1260.9 1000.7 L1262.5 1001.3 L1264 1000.9 L1265.5 1001.1 L1267 1000.9" fill="none" stroke="#000" stroke-width="4.8" stroke-linejoin="miter" stroke-miterlimit="2.5" stroke-linecap="butt" />
<text x="899.1" y="943.5" font-size="25" fill="#000" text-anchor="start" font-weight="normal" stroke="#000" stroke-width="0.25" >L-Arg</text>
<text x="1159" y="770.1" font-size="25" fill="#000" text-anchor="start" font-weight="normal" stroke="#000" stroke-width="0.25" >Heart</text>
<line x1="964.3" y1="954.5" x2="998.5" y2="988.7" stroke="#000" stroke-width="3.4"/>
<path d="M1010.5 1000.7 L986.5 992.2 L998.5 988.7 L1002 976.7 Z" fill="#000"/>
<clipPath id="clip_d"><rect x="776.8" y="720.6" width="183.5" height="159.6"/></clipPath>
<rect x="771.5" y="715.3" width="194.1" height="170.2" fill="#000"/>
<g clip-path="url(#clip_d)">
<rect x="776.8" y="720.6" width="183.5" height="159.6" fill="url(#bg_d)"/>
<g filter="url(#blur1)">
<ellipse cx="867.7" cy="813.9" rx="79.7" ry="37.6" fill="#bebfc1" stroke="#d6d6d8" stroke-width="2"/>
<rect x="788" y="783" width="159.5" height="30.9" fill="#c3c4c6"/>
<ellipse cx="867.7" cy="783" rx="82.2" ry="37.6" fill="#cdced0" stroke="#e2e2e4" stroke-width="3"/>
<ellipse cx="867.7" cy="786.8" rx="74" ry="31.6" fill="#d2d3d5" stroke="#bdbdc0" stroke-width="1.5"/>
<path d="M787.1 788.6 A82.2 37.6 0 0 0 810.2 810.1" fill="none" stroke="#f4f4f6" stroke-width="3.5" opacity="0.9"/>
<path d="M948.3 788.6 A82.2 37.6 0 0 1 926.9 809.3" fill="none" stroke="#f4f4f6" stroke-width="3.5" opacity="0.9"/>
<path d="M789.6 801.5 A79.7 37.6 0 0 0 945.8 801.5" fill="none" stroke="#e8e8ea" stroke-width="2" opacity="0.9"/>
<path d="M821 836 C823 832.8 830.2 828.7 840 827 C849.8 825.3 865.8 825.5 880 826 C894.2 826.5 917.2 827.7 925 830 C932.8 832.3 929.5 837 927 840 C924.5 843 921.2 846.5 910 848 C898.8 849.5 873.7 849.3 860 849 C846.3 848.7 834.5 848.2 828 846 C821.5 843.8 819 839.2 821 836 Z" fill="#8a4c5c"/>
<path d="M821 836 C824.2 834.5 830.2 828.7 840 827 C849.8 825.3 865.8 825.5 880 826 C894.2 826.5 917.2 827.7 925 830 C932.8 832.3 926.7 838.3 927 840" fill="none" stroke="#a87080" stroke-width="2" opacity="0.6"/>
<path d="M836 788 C841.8 785.8 858.5 786.2 870 786 C881.5 785.8 897.8 784.7 905 786.5 C912.2 788.3 912.2 793.1 913 797 C913.8 800.9 913 807 910 810 C907 813 903.3 814.5 895 815 C886.7 815.5 868.8 814 860 813 C851.2 812 846.2 811.3 842 809 C837.8 806.7 836 802.5 835 799 C834 795.5 830.2 790.2 836 788 Z" fill="url(#tis_d)"/>
<rect x="849.1" y="718.6" width="38.7" height="61.4" fill="#e2ddd8" opacity="0.6"/>
<line x1="851.1" y1="720.6" x2="851.1" y2="780" stroke="#f2eee8" stroke-width="2" opacity="0.8"/>
<line x1="884.8" y1="720.6" x2="884.8" y2="780" stroke="#f2eee8" stroke-width="2" opacity="0.8"/>
<line x1="849.6" y1="720.6" x2="849.6" y2="780" stroke="#b8b0a8" stroke-width="1" opacity="0.7"/>
<line x1="857.6" y1="720.6" x2="868" y2="765.5" stroke="#5a5050" stroke-width="1"/>
<circle cx="868" cy="765.5" r="2.3" fill="#1e1a1a"/>
<line x1="865.4" y1="720.6" x2="872.3" y2="766.5" stroke="#5a5050" stroke-width="1"/>
<circle cx="872.3" cy="766.5" r="2.3" fill="#1e1a1a"/>
<line x1="873.1" y1="720.6" x2="880.4" y2="765.5" stroke="#5a5050" stroke-width="1"/>
<circle cx="880.4" cy="765.5" r="2.3" fill="#1e1a1a"/>
<rect x="877" y="773" width="10" height="6" fill="#d8d4b8"/>
</g></g>
<rect x="899.9" y="862.3" width="57" height="16.4" fill="#000"/>
<text x="900.7" y="855.6" font-size="25" fill="#000" text-anchor="start" font-weight="normal" stroke="#000" stroke-width="0.25" >2 cm</text>
<text x="0" y="1230.7" font-size="42" fill="#000" text-anchor="start" font-weight="bold" >e</text>
<rect x="100.6" y="1234.6" width="485.9" height="362" fill="none" stroke="#000" stroke-width="2.7"/>
<line x1="222.1" y1="1596.6" x2="222.1" y2="1590.6" stroke="#000" stroke-width="2.6"/>
<line x1="343.6" y1="1596.6" x2="343.6" y2="1590.6" stroke="#000" stroke-width="2.6"/>
<line x1="465" y1="1596.6" x2="465" y2="1590.6" stroke="#000" stroke-width="2.6"/>
<line x1="100.6" y1="1492.8" x2="106.6" y2="1492.8" stroke="#000" stroke-width="2.6"/>
<line x1="100.6" y1="1389.1" x2="106.6" y2="1389.1" stroke="#000" stroke-width="2.6"/>
<text x="100.6" y="1631.3" font-size="30" fill="#000" text-anchor="middle" font-weight="normal" stroke="#000" stroke-width="0.25" >0</text>
<text x="222.1" y="1631.3" font-size="30" fill="#000" text-anchor="middle" font-weight="normal" stroke="#000" stroke-width="0.25" >30</text>
<text x="343.6" y="1631.3" font-size="30" fill="#000" text-anchor="middle" font-weight="normal" stroke="#000" stroke-width="0.25" >60</text>
<text x="465" y="1631.3" font-size="30" fill="#000" text-anchor="middle" font-weight="normal" stroke="#000" stroke-width="0.25" >90</text>
<text x="586.5" y="1631.3" font-size="30" fill="#000" text-anchor="middle" font-weight="normal" stroke="#000" stroke-width="0.25" >120</text>
<text x="88.7" y="1606.2" font-size="30" fill="#000" text-anchor="end" font-weight="normal" stroke="#000" stroke-width="0.25" >0</text>
<text x="88.7" y="1502.4" font-size="30" fill="#000" text-anchor="end" font-weight="normal" stroke="#000" stroke-width="0.25" >20</text>
<text x="88.7" y="1398.7" font-size="30" fill="#000" text-anchor="end" font-weight="normal" stroke="#000" stroke-width="0.25" >40</text>
<text x="88.7" y="1294.9" font-size="30" fill="#000" text-anchor="end" font-weight="normal" stroke="#000" stroke-width="0.25" >60</text>
<text x="341.8" y="1673" font-size="29.5" fill="#000" text-anchor="middle" font-weight="normal" stroke="#000" stroke-width="0.25" >Time (s)</text>
<text x="0" y="0" font-size="29.5" fill="#000" stroke="#000" stroke-width="0.25" text-anchor="middle" transform="translate(32 1415) rotate(-90)">Current (nA)</text>
<path d="M102 1490 L103 1505 L104.7 1520 L107 1525 L108.5 1527.9 L110 1528.7 L111.7 1529.4 L113.3 1531.5 L115 1532.6 L116.7 1533.3 L118.3 1533.8 L120 1535 L121.5 1534.8 L123.1 1534.9 L124.6 1535.2 L126.2 1535.5 L127.7 1535.9 L129.2 1535.6 L130.8 1536.1 L132.3 1535.8 L133.8 1535.7 L135.4 1535.6 L136.9 1535.3 L138.5 1535.1 L140 1536 L141.5 1535.9 L143.1 1535.9 L144.6 1536.1 L146.2 1536.1 L147.7 1535.3 L149.2 1535.6 L150.8 1535.4 L152.3 1536.5 L153.8 1535.9 L155.4 1536 L156.9 1535.5 L158.5 1535.3 L160 1536 L161.5 1535.8 L163.1 1536.2 L164.6 1536.7 L166.2 1535.8 L167.7 1536.9 L169.2 1536.5 L170.8 1536.8 L172.3 1537 L173.8 1537.1 L175.4 1537.7 L176.9 1538.1 L178.5 1538 L180 1538 L181.5 1537.8 L183.1 1538.3 L184.6 1538.4 L186.2 1538.7 L187.7 1538.5 L189.2 1537.6 L190.8 1538.1 L192.3 1538.4 L193.8 1539.1 L195.4 1538.7 L196.9 1539.3 L198.5 1539 L200 1539 L201.5 1538.4 L203 1539.1 L204.5 1539.4 L206 1539.4 L207.5 1538.5 L209 1539.5 L210.5 1539 L212 1538.3 L213.5 1539.1 L215 1538.5 L216.5 1538.9 L218 1540.3 L219.5 1540.8 L221 1540.2 L222.5 1539.9 L224 1540.7 L225.5 1540 L227 1539.4 L228.5 1538.7 L230 1540 L231.6 1540.4 L233.2 1538.8 L234.8 1538.4 L236.4 1539.4 L238 1539.7 L239.6 1539.2 L241.2 1540.1 L242.8 1539.5 L244.4 1539.6 L246 1539.5 L247.5 1536.9 L249 1534 L250.5 1533.2 L252 1533 L254 1535.6 L256 1538 L257.7 1539.8 L259.3 1538.8 L261 1540 L262.5 1539 L264 1538 L265.5 1544.7 L267 1551 L269 1540 L270.5 1538.7 L272 1538 L274 1548 L276 1540 L278 1540.9 L280 1542 L281.5 1541.1 L283.1 1541.7 L284.6 1541.9 L286.2 1542.4 L287.7 1542.2 L289.2 1541.5 L290.8 1541.1 L292.3 1542.6 L293.8 1542.1 L295.4 1540.6 L296.9 1541.4 L298.5 1541.1 L300 1541.5 L301.5 1541.2 L303.1 1540.6 L304.6 1541.3 L306.2 1541.2 L307.7 1541.4 L309.2 1542 L310.8 1541.6 L312.3 1540.9 L313.8 1540.6 L315.4 1541.2 L316.9 1542 L318.5 1541.9 L320 1541.5 L321.5 1541.2 L323.1 1542.2 L324.6 1541.9 L326.2 1541.4 L327.7 1542 L329.2 1541.8 L330.8 1541.4 L332.3 1541.8 L333.8 1542.1 L335.4 1542.8 L336.9 1541.6 L338.5 1542.3 L340 1542.3 L342 1546 L343.5 1543 L345 1540 L346.5 1539 L348 1538 L350.5 1400 L352.2 1259.5 L353 1270 L354 1338.8 L356 1360 L358 1378.5 L360 1384 L362 1398 L363.5 1402.5 L365 1408.3 L366.8 1410.8 L368.5 1412.6 L370.2 1414.6 L372 1415.7 L374 1416.6 L376 1417 L378 1420.8 L380 1423.2 L382 1420 L383.5 1426.3 L385 1432 L386.7 1435.3 L388.3 1437.5 L390 1440.5 L391.7 1440.5 L393.3 1440.2 L395 1439.7 L396.7 1439.9 L398.3 1439.5 L400 1440 L401.7 1439.3 L403.3 1439.5 L405 1439.2 L406.7 1440.4 L408.3 1440 L410 1439 L411.7 1439.4 L413.3 1439.1 L415 1438.1 L416.7 1438.5 L418.3 1437.4 L420 1438 L421.5 1434.7 L423 1432 L425 1437 L426.5 1433.5 L428 1430.6 L430 1434.1 L432 1438 L433.6 1439.2 L435.2 1439.2 L436.8 1441.6 L438.4 1440.9 L440 1442 L441.7 1443 L443.3 1442.4 L445 1444.2 L446.7 1443.7 L448.3 1445 L450 1445.5 L451.5 1445.7 L453 1446.4 L454.5 1446.5 L456 1446.7 L457.5 1446.7 L459 1448 L460.5 1447 L462 1447.5 L463.5 1447.5 L465 1448 L466.5 1444.1 L468 1440 L469.5 1445.5 L471 1452 L473 1458.5 L475 1465.4 L476.7 1466.5 L478.3 1466.8 L480 1468 L481.5 1465.2 L483 1462 L484.5 1468.2 L486 1475 L488 1477.1 L490 1477.8 L491.7 1479.8 L493.3 1482.8 L495 1484 L496.7 1485.3 L498.3 1486 L500 1487.6 L501.7 1488.7 L503.3 1489.9 L505 1490.2 L506.6 1491 L508.1 1490.9 L509.7 1490.1 L511.2 1491.3 L512.8 1490.9 L514.4 1491.3 L515.9 1491.9 L517.5 1491 L519.1 1492.2 L520.6 1492.9 L522.2 1492.1 L523.8 1491.8 L525.3 1492.8 L526.9 1492.4 L528.4 1493 L530 1492.6 L531.5 1493.1 L533.1 1491.6 L534.6 1492.4 L536.2 1491.3 L537.7 1491.6 L539.2 1492.2 L540.8 1491.1 L542.3 1491.2 L543.8 1491.3 L545.4 1491.5 L546.9 1491.4 L548.5 1491.3 L550 1491 L551.5 1490.7 L553 1490.4 L554.5 1491 L556 1490.2 L557.5 1490.2 L559 1490.9 L560.5 1490 L562 1489.9 L563.5 1490.8 L565 1490.2 L567 1477.8 L569 1478.4 L571 1479 L573 1476 L575 1475.3 L576.5 1478.8 L578 1483 L580 1482.7 L581.5 1485.8 L583 1487 L584.5 1487.5 L586 1485.2" fill="none" stroke="#000" stroke-width="4.5" stroke-linejoin="miter" stroke-miterlimit="2.5" stroke-linecap="butt" />
<text x="215.9" y="1442.9" font-size="25" fill="#000" text-anchor="start" font-weight="normal" stroke="#000" stroke-width="0.25" >L-Arg</text>
<text x="480.9" y="1283.8" font-size="25" fill="#000" text-anchor="start" font-weight="normal" stroke="#000" stroke-width="0.25" >Liver</text>
<line x1="275.4" y1="1457.9" x2="325.5" y2="1509.2" stroke="#000" stroke-width="3.4"/>
<path d="M337.4 1521.4 L313.5 1512.6 L325.5 1509.2 L329.2 1497.3 Z" fill="#000"/>
<clipPath id="clip_e"><rect x="103.5" y="1237.6" width="184.2" height="160.6"/></clipPath>
<rect x="99.3" y="1233.4" width="192.6" height="169" fill="#000"/>
<g clip-path="url(#clip_e)">
<rect x="103.5" y="1237.6" width="184.2" height="160.6" fill="url(#bg_e)"/>
<g filter="url(#blur1)">
<ellipse cx="193.1" cy="1337" rx="82.4" ry="46" fill="#bebfc1" stroke="#d6d6d8" stroke-width="2"/>
<rect x="110.7" y="1310.5" width="164.7" height="26.5" fill="#c3c4c6"/>
<ellipse cx="193.1" cy="1310.5" rx="84.9" ry="46" fill="#cdced0" stroke="#e2e2e4" stroke-width="3"/>
<ellipse cx="193.1" cy="1315.1" rx="76.4" ry="38.6" fill="#d2d3d5" stroke="#bdbdc0" stroke-width="1.5"/>
<path d="M109.9 1317.4 A84.9 46 0 0 0 133.7 1343.6" fill="none" stroke="#f4f4f6" stroke-width="3.5" opacity="0.9"/>
<path d="M276.3 1317.4 A84.9 46 0 0 1 254.2 1342.7" fill="none" stroke="#f4f4f6" stroke-width="3.5" opacity="0.9"/>
<path d="M112.4 1326.4 A82.4 46 0 0 0 273.8 1326.4" fill="none" stroke="#e8e8ea" stroke-width="2" opacity="0.9"/>
<path d="M143 1361 C144.7 1358.2 150.5 1356.2 160 1355 C169.5 1353.8 188.5 1353.7 200 1354 C211.5 1354.3 224.8 1354.7 229 1357 C233.2 1359.3 229 1364.7 225 1368 C221 1371.3 214.2 1375.3 205 1377 C195.8 1378.7 179.2 1378.8 170 1378 C160.8 1377.2 154.5 1374.8 150 1372 C145.5 1369.2 141.3 1363.8 143 1361 Z" fill="#6e1e26"/>
<path d="M158 1326 C161.3 1322.7 168 1321.3 175 1320 C182 1318.7 191.7 1318 200 1318 C208.3 1318 221.2 1317.5 225 1320 C228.8 1322.5 224.8 1328 223 1333 C221.2 1338 219.5 1346.5 214 1350 C208.5 1353.5 197.7 1354 190 1354 C182.3 1354 173.8 1352.3 168 1350 C162.2 1347.7 156.7 1344 155 1340 C153.3 1336 154.7 1329.3 158 1326 Z" fill="url(#tis_e)"/>
<rect x="168.6" y="1235.6" width="44.2" height="68.4" fill="#e2ddd8" opacity="0.6"/>
<line x1="170.6" y1="1237.6" x2="170.6" y2="1304" stroke="#f2eee8" stroke-width="2" opacity="0.8"/>
<line x1="209.8" y1="1237.6" x2="209.8" y2="1304" stroke="#f2eee8" stroke-width="2" opacity="0.8"/>
<line x1="169.1" y1="1237.6" x2="169.1" y2="1304" stroke="#b8b0a8" stroke-width="1" opacity="0.7"/>
<line x1="178.3" y1="1237.6" x2="191.9" y2="1294.7" stroke="#5a5050" stroke-width="1"/>
<circle cx="191.9" cy="1294.7" r="2.3" fill="#1e1a1a"/>
<line x1="187.2" y1="1237.6" x2="197.3" y2="1296" stroke="#5a5050" stroke-width="1"/>
<circle cx="197.3" cy="1296" r="2.3" fill="#1e1a1a"/>
<line x1="196" y1="1237.6" x2="205.9" y2="1294.7" stroke="#5a5050" stroke-width="1"/>
<circle cx="205.9" cy="1294.7" r="2.3" fill="#1e1a1a"/>
<rect x="202" y="1303" width="9.3" height="6" fill="#d4d0a8"/>
</g></g>
<rect x="226.5" y="1380" width="57.6" height="15.8" fill="#000"/>
<text x="230.3" y="1373" font-size="25" fill="#000" text-anchor="start" font-weight="normal" stroke="#000" stroke-width="0.25" >2 cm</text>
<text x="683.5" y="1236" font-size="42" fill="#000" text-anchor="start" font-weight="bold" >f</text>
<rect x="776" y="1232.4" width="490.2" height="364.9" fill="none" stroke="#000" stroke-width="2.7"/>
<line x1="898.6" y1="1597.3" x2="898.6" y2="1591.3" stroke="#000" stroke-width="2.6"/>
<line x1="1021.1" y1="1597.3" x2="1021.1" y2="1591.3" stroke="#000" stroke-width="2.6"/>
<line x1="1143.7" y1="1597.3" x2="1143.7" y2="1591.3" stroke="#000" stroke-width="2.6"/>
<line x1="776" y1="1524.3" x2="782" y2="1524.3" stroke="#000" stroke-width="2.6"/>
<line x1="776" y1="1451.4" x2="782" y2="1451.4" stroke="#000" stroke-width="2.6"/>
<line x1="776" y1="1378.4" x2="782" y2="1378.4" stroke="#000" stroke-width="2.6"/>
<line x1="776" y1="1305.4" x2="782" y2="1305.4" stroke="#000" stroke-width="2.6"/>
<text x="776" y="1631.6" font-size="30" fill="#000" text-anchor="middle" font-weight="normal" stroke="#000" stroke-width="0.25" >0</text>
<text x="898.6" y="1631.6" font-size="30" fill="#000" text-anchor="middle" font-weight="normal" stroke="#000" stroke-width="0.25" >30</text>
<text x="1021.1" y="1631.6" font-size="30" fill="#000" text-anchor="middle" font-weight="normal" stroke="#000" stroke-width="0.25" >60</text>
<text x="1143.7" y="1631.6" font-size="30" fill="#000" text-anchor="middle" font-weight="normal" stroke="#000" stroke-width="0.25" >90</text>
<text x="1266.2" y="1631.6" font-size="30" fill="#000" text-anchor="middle" font-weight="normal" stroke="#000" stroke-width="0.25" >120</text>
<text x="761.2" y="1606.9" font-size="30" fill="#000" text-anchor="end" font-weight="normal" stroke="#000" stroke-width="0.25" >0</text>
<text x="761.2" y="1533.9" font-size="30" fill="#000" text-anchor="end" font-weight="normal" stroke="#000" stroke-width="0.25" >10</text>
<text x="761.2" y="1461" font-size="30" fill="#000" text-anchor="end" font-weight="normal" stroke="#000" stroke-width="0.25" >20</text>
<text x="761.2" y="1388" font-size="30" fill="#000" text-anchor="end" font-weight="normal" stroke="#000" stroke-width="0.25" >30</text>
<text x="761.2" y="1315" font-size="30" fill="#000" text-anchor="end" font-weight="normal" stroke="#000" stroke-width="0.25" >40</text>
<text x="761.2" y="1242" font-size="30" fill="#000" text-anchor="end" font-weight="normal" stroke="#000" stroke-width="0.25" >50</text>
<text x="1020.1" y="1673.5" font-size="29.5" fill="#000" text-anchor="middle" font-weight="normal" stroke="#000" stroke-width="0.25" >Time (s)</text>
<text x="0" y="0" font-size="29.5" fill="#000" stroke="#000" stroke-width="0.25" text-anchor="middle" transform="translate(708 1415) rotate(-90)">Current (nA)</text>
<path d="M777 1502 L779 1498.1 L781 1495 L782.7 1495.2 L784.3 1499.5 L786 1500 L788 1504.1 L790 1503 L791.7 1504.1 L793.3 1505.5 L795 1505 L796.7 1504.1 L798.3 1501.7 L800 1499 L801.7 1500.7 L803.3 1502 L805 1502 L806.7 1501.1 L808.3 1499.3 L810 1500 L811.7 1497.5 L813.3 1498.6 L815 1497 L816.7 1498.7 L818.3 1499.6 L820 1501 L821.7 1497.9 L823.3 1498.5 L825 1497.6 L826.7 1499 L828.3 1499.7 L830 1502 L831.7 1500.3 L833.3 1501.9 L835 1499 L836.7 1503 L838.3 1505.4 L840 1507.5 L841.7 1508 L843.3 1507.6 L845 1507.9 L846.7 1509.1 L848.3 1508 L850 1509 L851.7 1509 L853.3 1510.8 L855 1508.4 L856.7 1509 L858.3 1511.4 L860 1510 L861.7 1510.7 L863.3 1511 L865 1510.5 L866.7 1510.4 L868.3 1513.1 L870 1512.5 L871.7 1511.7 L873.3 1515.9 L875 1517 L876.7 1515.5 L878.3 1514.9 L880 1514 L881.7 1514.2 L883.3 1518.8 L885 1520 L886.7 1522.2 L888.3 1523.5 L890 1524.9 L891.7 1523 L893.3 1519.1 L895 1518 L896.7 1519.5 L898.3 1521.1 L900 1522 L901.7 1519.9 L903.3 1515.2 L905 1516 L906.7 1518.6 L908.3 1521.4 L910 1524 L911.7 1521 L913.3 1520.1 L915 1518 L916.7 1519.8 L918.3 1519.3 L920 1520 L921.7 1523.5 L923.3 1524.2 L925 1527 L926.7 1524.4 L928.3 1523.2 L930 1521 L931.7 1521.2 L933.3 1521.5 L935 1524 L936.7 1523 L938.3 1521.3 L940 1520 L941.7 1523 L943.3 1524.2 L945 1527.4 L946.7 1526.8 L948.3 1527.4 L950 1526.3 L951.7 1526.3 L953.3 1526.4 L955 1526 L956.7 1525.7 L958.3 1526.9 L960 1525.7 L961.7 1527.8 L963.3 1530 L965 1528 L966.7 1528.4 L968.3 1527.3 L970 1526.1 L971.7 1526.3 L973.3 1526.9 L975 1527 L976.7 1526.8 L978.3 1528.4 L980 1528.6 L981.7 1529.6 L983.3 1529.2 L985 1529.9 L986.7 1530.3 L988.3 1530.5 L990 1528.2 L991.7 1528.5 L993.3 1528.2 L995 1528 L996.7 1527.8 L998.3 1528.7 L1000 1527.2 L1001.7 1526.6 L1003.3 1526 L1005 1527 L1006.7 1525.8 L1008.3 1527 L1010 1528 L1011.7 1527.3 L1013.3 1526.6 L1015 1527.4 L1016.7 1526.5 L1018.3 1525 L1020 1525 L1021.7 1525 L1023.3 1523.4 L1025 1522.4 L1026.7 1522.2 L1028.3 1520 L1030 1518 L1031.7 1517.6 L1033.3 1515.2 L1035 1515 L1036.7 1513.8 L1038.3 1511.3 L1040 1510 L1041.7 1508.7 L1043.3 1508.5 L1045 1507.5 L1046.8 1508.3 L1048.5 1506.7 L1050.2 1507.4 L1052 1505 L1053.6 1505.1 L1055.2 1502.9 L1056.8 1503.1 L1058.4 1504.7 L1060 1502.6 L1061.5 1480 L1062 1333.9 L1063 1380 L1064 1445.5 L1066 1430 L1068 1415.7 L1070 1430 L1071 1448 L1073 1452 L1075 1455 L1076.7 1459.4 L1078.3 1463.2 L1080 1467.8 L1081.6 1470 L1083.2 1472.3 L1084.8 1473.6 L1086.4 1476 L1088 1478 L1089.8 1480.1 L1091.5 1480.7 L1093.2 1483.2 L1095 1485.2 L1096.7 1485.9 L1098.3 1487.3 L1100 1488.4 L1101.7 1489.9 L1103.3 1491 L1105 1493 L1106.7 1495.7 L1108.3 1495.2 L1110 1496.9 L1111.7 1497 L1113.3 1499 L1115 1500 L1116.5 1500.9 L1118 1502.4 L1119.5 1503 L1121 1501.7 L1122.5 1504.1 L1124 1503.1 L1125.5 1504.6 L1127 1504 L1128.5 1505.2 L1130 1505 L1131.5 1505.5 L1133 1504.9 L1134.5 1507.1 L1136 1506.8 L1137.5 1507.5 L1139 1508.3 L1140.5 1509 L1142 1511.2 L1143.5 1508.7 L1145 1510 L1146.5 1509.9 L1148.1 1509.7 L1149.6 1511.8 L1151.2 1510.7 L1152.7 1510.7 L1154.2 1511.9 L1155.8 1511.8 L1157.3 1512.4 L1158.8 1510.9 L1160.4 1512.4 L1161.9 1513.1 L1163.5 1512.3 L1165 1513 L1166.6 1514.4 L1168.1 1513.5 L1169.7 1513.2 L1171.2 1513.8 L1172.8 1514.9 L1174.4 1515.6 L1175.9 1514.6 L1177.5 1515.8 L1179.1 1515.3 L1180.6 1515.1 L1182.2 1515.3 L1183.8 1517 L1185.3 1516.3 L1186.9 1517 L1188.4 1518.6 L1190 1517.4 L1191.5 1518.6 L1193 1517.6 L1194.5 1518 L1196 1518.7 L1197.5 1517 L1199 1519.6 L1200.5 1518.7 L1202 1520.2 L1203.5 1519.2 L1205 1520 L1206.5 1520 L1208 1521.2 L1209.5 1521.3 L1211 1522.5 L1212.5 1520.9 L1214 1521 L1215.5 1523 L1217 1522.4 L1218.5 1521.2 L1220 1522.4 L1221.5 1522 L1223.1 1522.6 L1224.6 1521.7 L1226.2 1520.8 L1227.7 1522 L1229.2 1522.2 L1230.8 1522.8 L1232.3 1522.5 L1233.8 1522.2 L1235.4 1520.7 L1236.9 1520.3 L1238.5 1520.3 L1240 1521 L1241.5 1521.6 L1243 1522 L1244.5 1519.8 L1246 1521.9 L1247.5 1522.3 L1249 1522.9 L1250.5 1522.4 L1252 1522.7 L1253.5 1522.1 L1255 1522 L1256.7 1521.9 L1258.3 1522.1 L1260 1522.2 L1261.7 1521.3 L1263.3 1522.3 L1265 1522.4" fill="none" stroke="#000" stroke-width="4.5" stroke-linejoin="miter" stroke-miterlimit="2.5" stroke-linecap="butt" />
<text x="900.9" y="1457" font-size="25" fill="#000" text-anchor="start" font-weight="normal" stroke="#000" stroke-width="0.25" >L-Arg</text>
<text x="1140.9" y="1279.7" font-size="25" fill="#000" text-anchor="start" font-weight="normal" stroke="#000" stroke-width="0.25" >Kidney</text>
<line x1="961.6" y1="1470.3" x2="1010.2" y2="1520.1" stroke="#000" stroke-width="3.4"/>
<path d="M1022.1 1532.3 L998.2 1523.5 L1010.2 1520.1 L1013.9 1508.2 Z" fill="#000"/>
<clipPath id="clip_f"><rect x="778.5" y="1235.6" width="184.5" height="159.8"/></clipPath>
<rect x="774.3" y="1231.4" width="192.9" height="168.2" fill="#000"/>
<g clip-path="url(#clip_f)">
<rect x="778.5" y="1235.6" width="184.5" height="159.8" fill="url(#bg_f)"/>
<g filter="url(#blur1)">
<ellipse cx="871.2" cy="1335.4" rx="77.1" ry="47.2" fill="#bebfc1" stroke="#d6d6d8" stroke-width="2"/>
<rect x="794.1" y="1299.6" width="154.2" height="35.8" fill="#c3c4c6"/>
<ellipse cx="871.2" cy="1299.6" rx="79.5" ry="47.2" fill="#cdced0" stroke="#e2e2e4" stroke-width="3"/>
<ellipse cx="871.2" cy="1304.3" rx="71.5" ry="39.6" fill="#d2d3d5" stroke="#bdbdc0" stroke-width="1.5"/>
<path d="M793.3 1306.7 A79.5 47.2 0 0 0 815.6 1333.6" fill="none" stroke="#f4f4f6" stroke-width="3.5" opacity="0.9"/>
<path d="M949.1 1306.7 A79.5 47.2 0 0 1 928.4 1332.6" fill="none" stroke="#f4f4f6" stroke-width="3.5" opacity="0.9"/>
<path d="M795.7 1321.1 A77.1 47.2 0 0 0 946.7 1321.1" fill="none" stroke="#e8e8ea" stroke-width="2" opacity="0.9"/>
<path d="M822 1366 C825.3 1363.2 833.7 1360.3 845 1359 C856.3 1357.7 878 1357.5 890 1358 C902 1358.5 913.3 1359.2 917 1362 C920.7 1364.8 916.5 1371.7 912 1375 C907.5 1378.3 901.2 1380.8 890 1382 C878.8 1383.2 855.8 1383 845 1382 C834.2 1381 828.8 1378.7 825 1376 C821.2 1373.3 818.7 1368.8 822 1366 Z" fill="#6c2a36"/>
<path d="M822 1318 C824 1313.7 832 1309.3 840 1307 C848 1304.7 860 1304.2 870 1304 C880 1303.8 893.3 1304.2 900 1306 C906.7 1307.8 909.2 1311.3 910 1315 C910.8 1318.7 909.2 1324.2 905 1328 C900.8 1331.8 894.2 1336 885 1338 C875.8 1340 859.5 1340.8 850 1340 C840.5 1339.2 832.7 1336.7 828 1333 C823.3 1329.3 820 1322.3 822 1318 Z" fill="url(#tis_f)"/>
<ellipse cx="862" cy="1320" rx="22" ry="7" fill="#b48c94" opacity="0.8"/>
<rect x="850.6" y="1233.6" width="37.2" height="65.3" fill="#e2ddd8" opacity="0.6"/>
<line x1="852.6" y1="1235.6" x2="852.6" y2="1298.9" stroke="#f2eee8" stroke-width="2" opacity="0.8"/>
<line x1="884.8" y1="1235.6" x2="884.8" y2="1298.9" stroke="#f2eee8" stroke-width="2" opacity="0.8"/>
<line x1="851.1" y1="1235.6" x2="851.1" y2="1298.9" stroke="#b8b0a8" stroke-width="1" opacity="0.7"/>
<line x1="858.8" y1="1235.6" x2="868.4" y2="1281.8" stroke="#5a5050" stroke-width="1"/>
<circle cx="868.4" cy="1281.8" r="2.3" fill="#1e1a1a"/>
<line x1="866.2" y1="1235.6" x2="873.6" y2="1283" stroke="#5a5050" stroke-width="1"/>
<circle cx="873.6" cy="1283" r="2.3" fill="#1e1a1a"/>
<line x1="873.7" y1="1235.6" x2="881.9" y2="1281.8" stroke="#5a5050" stroke-width="1"/>
<circle cx="881.9" cy="1281.8" r="2.3" fill="#1e1a1a"/>
<rect x="856.8" y="1291" width="31" height="3.5" fill="#e8e6e0"/>
</g></g>
<rect x="902.6" y="1377.6" width="57.3" height="15.8" fill="#000"/>
<text x="903.8" y="1369.4" font-size="25" fill="#000" text-anchor="start" font-weight="normal" stroke="#000" stroke-width="0.25" >2 cm</text>
<defs><linearGradient id="bg_c" x1="0" y1="0" x2="0.3" y2="1"><stop offset="0" stop-color="#c9c7c7"/><stop offset="0.5" stop-color="#d0d0d2"/><stop offset="1" stop-color="#c2c2c4"/></linearGradient><linearGradient id="bg_d" x1="0" y1="0" x2="0.3" y2="1"><stop offset="0" stop-color="#cfcdcd"/><stop offset="0.5" stop-color="#c9c9cb"/><stop offset="1" stop-color="#b0afb0"/></linearGradient><linearGradient id="bg_e" x1="0" y1="0" x2="0.3" y2="1"><stop offset="0" stop-color="#cfcfd0"/><stop offset="0.5" stop-color="#c8c8ca"/><stop offset="1" stop-color="#b4b4b6"/></linearGradient><linearGradient id="bg_f" x1="0" y1="0" x2="0.3" y2="1"><stop offset="0" stop-color="#cdcbcb"/><stop offset="0.5" stop-color="#cfcfd0"/><stop offset="1" stop-color="#bdbdbf"/></linearGradient><linearGradient id="tis_c" x1="0" y1="0" x2="0" y2="1"><stop offset="0" stop-color="#dcb4aa"/><stop offset="0.45" stop-color="#d39aa0"/><stop offset="1" stop-color="#c4808e"/></linearGradient><linearGradient id="tis_d" x1="0" y1="0" x2="1" y2="0"><stop offset="0" stop-color="#98687c"/><stop offset="0.35" stop-color="#8e4a52"/><stop offset="1" stop-color="#7e2c2e"/></linearGradient><linearGradient id="tis_e" x1="0" y1="0" x2="1" y2="1"><stop offset="0" stop-color="#7e1c20"/><stop offset="1" stop-color="#5e1216"/></linearGradient><linearGradient id="tis_f" x1="0" y1="0" x2="0" y2="1"><stop offset="0" stop-color="#a85040"/><stop offset="0.5" stop-color="#a8584c"/><stop offset="1" stop-color="#963c34"/></linearGradient><filter id="blur1" x="-5%" y="-5%" width="110%" height="110%"><feGaussianBlur stdDeviation="1.1"/></filter></defs>
</svg></body></html>
